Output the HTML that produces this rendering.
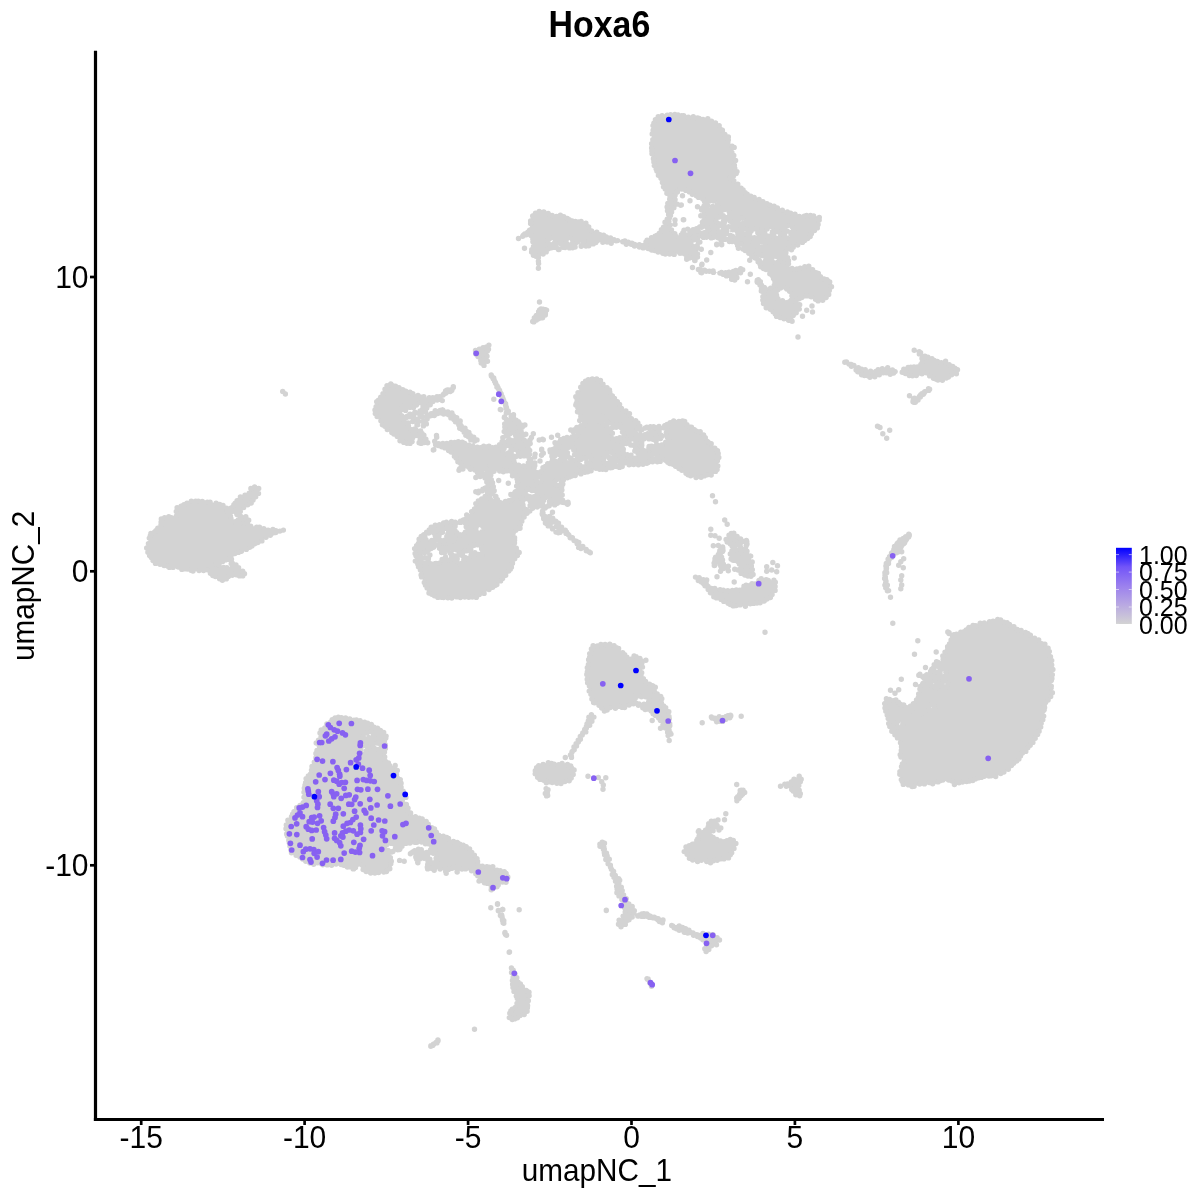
<!DOCTYPE html><html><head><meta charset="utf-8"><title>Hoxa6</title><style>html,body{margin:0;padding:0;background:#fff}svg{display:block}</style></head><body><svg width="1200" height="1200" viewBox="0 0 1200 1200">
<rect width="1200" height="1200" fill="#fff"/>
<path fill="#D3D3D3" fill-rule="evenodd" d="M900.4,756.3 903.1,761.7 899.5,768.7 900.3,777.9 903.1,784.9 910.1,786.3 917.9,785.5 926.6,782.9 934.6,784.5 941.2,780.4 951,781.4 954,785.1 959.5,783.1 969.5,781.4 979.5,778.1 988.1,776.3 997.5,776.3 1000.6,773.3 1007.1,770.8 1011.9,765.2 1016.9,761.1 1031.7,743.8 1039,732.4 1041.4,726.1 1043,718 1044,710.6 1046.4,708.8 1044.1,705.7 1050,698.9 1052.9,693.1 1051.3,685.1 1053,668.3 1052.2,658.7 1049.8,650.7 1046.8,644.8 1040.7,641.8 1032.2,636.7 1024.2,631.1 1019.1,630.2 1012.3,624.3 1004.3,621.9 997.3,618.8 977.3,624.4 969.3,627.6 964.2,631 958.8,632.8 951.2,633.8 953.2,636.6 948.5,644.2 946.8,650.1 942.2,656.2 945.1,664.8 937.1,660.8 935,662.8 931.6,670.5 923.8,676.3 921.2,675.7 924,679.9 918.8,688.7 919.6,693.8 914.9,701.3 908.8,707.3 900.3,704.1 897.5,699.3 893.2,701.5 887.4,697.8 883,705.2 885.2,710.9 888.7,718 887.9,724.6 892.5,732.2 896.6,737.2 900.3,743.5 901.2,750ZM947.2,682.1 947.6,684.2 946.1,686.5 943.6,687.5 941.6,686.8 941.2,684.7 942.7,682.4 945.2,681.3ZM941.3,669.1 943.4,669.2 944.6,670.3 945.3,671.4 945.7,672.8 945.5,674.4 944.2,675.9 942.1,675.8 940.9,674.8 940.1,673.6 939.8,672.3 939.9,670.7ZM933.8,668.6 934.7,667.1 937.1,666.4 939.4,667.6 939.9,669.3 939,670.9 936.6,671.5 934.4,670.4ZM933.1,681.1 935,681.4 936.5,683.6 936.3,686.2 934.8,687.4 933,687.1 931.4,684.9 931.7,682.3ZM933.2,704.6 934.3,705.8 934.6,707.4 934.2,708.8 933.2,709.9 931.7,710.4 930.1,710.1 928.9,708.9 928.6,707.3 929,705.9 930,704.8 931.5,704.2ZM920.4,710.6 921.3,712 921.2,713.6 920.4,714.9 919.1,715.7 917.6,715.7 916.2,715 915.4,713.6 915.4,712 916.2,710.7 917.5,709.9 919.1,709.9ZM901.5,722.4 902.5,723.9 902.2,725.7 901.2,726.8 899.9,727.4 898.5,727.4 897.1,726.8 896.1,725.3 896.4,723.5 897.4,722.4 898.7,721.8 900.1,721.8ZM890.1,375.2 897.8,371.4 886.5,367.1 878.3,369.4 873.4,372.3 867.7,369.4 859.3,367.7 851.2,363.7 847.5,363.7 848,364.3 854.7,368.5 859.4,374 871.7,377.1 876,376.4 885.1,371.9ZM901.1,371.8 904.2,372.3 909.1,376.3 913,376.3 919.6,373.8 927.4,373.8 932.8,378.3 938.5,381.2 945.9,379 952.4,375.8 958.2,372.1 958.6,368.7 952.3,365.9 946.9,361.3 939.7,362 929.2,357.7 922.2,354.2 917.9,350.6 916.8,351 920.1,354.9 922.2,362.2 917.4,367.1 910.8,366.2 905.9,366.9ZM913.2,401.6 917.2,398.4 923.6,394.3 927,389.9 921.3,394ZM909.7,535.7 909.8,534.6 909,534.2 904.9,536.7 899.7,539.1 894.3,547.5 890.1,555.5 886,564.5 884.2,575.2 885,584.4 887.1,591.5 888,591.5 888.3,590.4 886.7,584 885.8,575 887.5,565.2 892.9,553.8 896.4,553.8 898.4,550.4 902.6,546.2ZM537.7,259.5 537.1,264.4 537.8,265.3 538.4,263.9ZM537.9,258 545.4,252.6 551,248 555.4,248.1 556.3,246.1 559,244.4 560.8,244.3 562.8,245.4 562.9,247.7 562.5,248.4 572.6,248.8 578.4,244.2 577.4,242 577.5,240.4 578.8,238.7 580.9,238.8 582.2,239.8 582.9,241 583.3,242.3 583.3,243.9 582,245.6 580.1,245.5 582.2,247 594,244.8 600,238.8 604.2,243 613,243 620.2,240.3 627.4,244.7 638.8,246.4 657.3,251.4 666.9,255.4 676.6,253.8 686,254.8 689.2,258.8 698,258.1 698,245 696,245.8 694.3,245.9 692.6,245.3 691.3,243.6 691.9,241.4 693.3,240.3 694.9,239.7 696.5,239.7 698,240.1 698,239.2 704.8,237.1 718.5,238.6 718.2,237 718.6,235.4 719.9,234.2 719.9,233 721.2,231.2 719.9,231.4 718.4,230.7 717.5,229.4 717.3,227.8 717.9,226.4 719.2,225.4 720.8,225.2 722.3,225.9 723.2,227.2 723.4,228.7 722.4,230.5 723.8,230.2 725.5,230.7 726,231.2 727.7,230.4 726.5,229.7 725.6,227.7 726.3,226 725.6,225.3 724.8,222.9 724.9,221.4 726.4,219.9 728.4,220.2 729.5,221.3 730.1,222.4 730.2,224.5 731.4,223.1 732.9,222.6 734.5,222.9 735.7,223.9 736.3,225.5 736,227.1 734.9,228.3 733.3,228.8 733,229.6 732.1,230.2 733.9,229.9 735.6,230.8 737.8,233.7 738.2,235.6 737.2,237.8 734.8,238.1 733.1,237.2 731,234.4 730.6,232.5 731.4,230.6 730,230.9 730.6,233 729.5,235.5 729.6,236.3 729,237.8 727.8,238.8 726.2,239.2 724.2,238.2 723.8,239.4 724.8,239.6 726,241.3 730.3,241.3 736.3,243.3 738.1,246 739.5,244.9 741.9,244.8 743.4,246.8 743,249.9 745.5,251 753.7,244.5 754.9,245.8 748.1,254.3 752.8,256.7 759.4,262.3 760.1,268.4 766,269.9 771.6,275.5 776,284.2 766.3,289.1 759,281.8 762.2,286.3 760.6,291.7 763.8,294.1 762.9,301.4 765,306.2 771.3,310.9 777.8,316.7 784.1,319.8 790.7,322 792.5,321.1 794,315.8 801.3,306.2 794.9,301.7 800.9,297.2 808.7,296.3 812.7,298.3 817.3,301.3 822.6,301.3 827.5,297.1 832.4,285.1 830.2,281.5 821.2,276.6 815.4,269.9 808,266.2 790.1,268.9 786,250.6 788.7,249.3 792.4,249.6 795.4,245.9 807.1,240.1 813.4,232.9 818.2,225.7 819.7,221.9 819.7,216.7 809.9,215.3 796.3,215.3 782.6,210.2 755.8,198.5 745.4,192.4 737.8,184.8 729.8,178 738.1,173.4 734.6,167.1 735.4,158.8 731.9,153.6 734.3,147.3 729,142.7 728.1,136.8 723.4,132.1 718.6,124.8 709.4,119.5 698,118.8 698,117.6 673.4,114 657.7,116.8 652.8,122.5 651.2,149.9 652.8,157.9 656.1,169.3 664.3,189 670.7,198.2 666.3,206.8 668.8,213.4 664.3,224.2 658.1,234.9 647.9,239.2 642.4,245.6 629.5,241.9 616.2,239.4 602.6,235.2 592.1,230 584.1,221.9 571,220.3 562.9,215.4 554.5,216.2 547.7,212 536.7,211.2 532.4,216.2 528.3,222.4 531.6,226.6 527.2,233.3 517.4,237.5 518.1,238.4 530.7,233 532.9,245.1 531.3,250.7 533.1,255.8 538,256.7ZM786.1,231.7 787.6,231.5 785.8,228.9 786.1,226.7 788.2,225.8 791.2,227 793,229.6 792.7,231.9 790.6,232.7 789.4,232.4 790.3,234.3 790.2,235.7 789.1,237.1 787.4,237.3 786.1,236.6 785.3,235.7 784.9,234.5 785,233ZM784.7,302.2 778.3,298 775.9,290.7 783.6,286.8 790.1,292.2 792.5,299.6ZM778.3,231.3 779.7,232.7 780,234.5 779.6,236.2 778.6,237.5 776.9,238.4 775,238.2 773.6,236.7 773.3,234.9 773.7,233.3 774.7,231.9 776.3,231.1ZM772.1,258.9 772.6,257.2 774,256.1 775.6,255.8 777.2,256.4 778.4,257.6 778.7,259.3 778.1,261 776.8,262.1 775.2,262.4 773.6,261.8 772.4,260.6ZM771.8,229.6 772.6,231.5 772.3,233.3 771.3,234.7 770,235.7 768.2,236.2 766.2,235.5 765.4,233.6 765.7,231.8 766.7,230.4 768,229.4 769.8,228.9ZM760,257 761.7,256.1 763.4,256.2 764.9,257.1 765.8,258.5 765.9,260.3 765.1,261.9 763.5,262.8 761.7,262.7 760.2,261.8 759.3,260.4 759.2,258.6ZM760.8,241.8 762.2,241.9 763.5,242.7 764.1,244 764,245.5 763.2,246.7 761.9,247.4 760.5,247.3 759.2,246.5 758.6,245.2 758.7,243.7 759.5,242.5ZM752,232.3 752.2,229.7 753.8,228.4 755.7,228.8 756.8,229.9 757.5,232.5 756.1,236.4 754.8,237.3 753.5,237.6 752.1,237.6 750.6,237 749.5,235.3 750.2,233.4ZM747.2,230.3 747.1,231.9 746.3,233 745.1,233.6 743.7,233.6 742.5,232.9 741.7,231.6 741.8,230.1 742.6,229 743.8,228.4 745.2,228.4 746.4,229ZM742.1,218.3 743.3,219.9 743.3,221.5 742.8,222.9 741.8,224.1 740.3,224.8 738.4,224.4 737.2,222.9 737.1,221.2 737.7,219.8 738.7,218.7 740.2,218ZM721.4,212.1 723,210.5 724.9,210 726.8,210.4 728.4,211.4 729.6,213 729.6,215.3 728.1,216.9 726.1,217.3 724.3,216.9 722.6,215.9 721.5,214.3ZM723.7,218.2 724.1,220.3 723.3,221.8 722.3,222.9 720.9,223.6 719.2,223.9 717.3,222.9 716.9,220.8 717.6,219.3 718.7,218.2 720,217.5 721.7,217.2ZM669.6,219.9 672.4,210.8 676.9,204.7 674.5,198.2 679.8,188.6 690.9,193.2 699.3,198.2 707.1,202.2 706,203.7 707.8,204.8 708.1,205.9 709.4,205 709,203.6 710,201.9 711.6,201.1 713.2,201 714.7,201.4 716.1,202.6 716.6,204.5 715.6,206.3 714.9,206.7 715.4,208.9 714.1,210.6 712.3,211.2 710.6,211.1 709,210.5 707.7,209.1 707.5,208.3 706.7,209.1 705.3,209.6 705.3,211.2 704.6,212.9 702.8,214 704,222 702,222 702,224.2 697.6,228.5 690,229.8 690.1,232.2 688.5,233.7 686.7,234 684.9,233.6 683.2,232.3 682,232.9 682,235.3 675.6,235.3 671.4,229.1ZM702.1,227.2 704.4,226.4 706.2,226.6 707.8,228.1 707.5,230.3 706.4,231.7 705,232.4 703.4,232.8 702.6,233.4 700.8,233.3 699.6,232.3 698.7,229.7 699.1,228.2 700.6,227ZM569.2,237.2 571.2,238.2 572.2,241.2 571.4,244.2 569.4,245.4 567.4,244.3 566.5,241.3 567.3,238.3ZM555.4,240.5 554.5,242.6 553.1,243.5 551.6,243.9 550.1,244 548.4,243.4 547,241.6 547.9,239.5 549.4,238.6 550.8,238.2 552.3,238.2 554,238.7ZM799.6,786.5 801.6,779.8 801.4,777.3 798.5,776.3 794.4,778.4 789.3,782.6 784.3,784.3 782.7,785.6 783.9,786.3 789.7,786.3 791.7,791.5 794.7,795.1 798.4,797.4 801.5,795.8 800.6,793.9ZM723.4,602.3 730.2,604 733.7,607.6 738,605.4 744.8,606.3 749.6,604.7 757.9,603.9 765.7,601.5 771.8,596.2 774.8,590.9 776.3,584.2 775.2,580.3 769.6,580.3 763.4,578 759.3,580.1 753.8,583.8 748.8,582.9 744.7,585.7 740.9,590.5 733.3,589.5 724.8,590.4 716.3,587.8 707.9,586.9 705,581.2 701.5,577.6 696.8,576.3 694,577.5 694.7,578.4 699.5,580.9 704,585.3 708.1,590.3 712.5,594.6 714.6,598.8 719,598.8ZM731.1,556 733,555.5 734.5,556.1 735.6,557.4 735.8,558.8 737.2,559.9 737.6,562 740.7,566.6 738.2,570.8 739.6,573.2 744.3,574 748,577.7 750.5,576.6 753.2,574 753.7,571.2 751.1,566.9 752.6,562.7 749.9,561.4 749.5,559.5 748,559.4 746.8,558.8 745.9,557.5 745.8,555.7 746.9,554.4 748.1,554 744.8,547.4 743.8,547.7 742.3,547.3 741.1,546.4 740.4,545 740.7,543.2 741.9,542 743.4,541.6 744.9,542 745.9,542.7 746,542.5 736.2,536.6 732.7,532.3 729.6,533.3 726.6,537.9 724.5,540 726.3,541.8 732.3,545.8 730.4,553.3ZM738.2,560.4 738.4,558.3 740,557.2 741.6,557.2 743.9,558.5 744.8,559.8 744.6,561.9 743,563 741.4,563 739.1,561.7ZM740.6,546.6 740.2,548.3 739.1,549.5 737.7,549.9 736.3,549.9 734.9,549.1 734,547.5 734.4,545.8 735.5,544.6 736.9,544.2 738.3,544.2 739.7,545ZM744.1,791.1 742,788.4 740.2,789.6 739.4,794.2 736.3,798 736.8,800.3 738.6,801.2 739,799.2 741.9,795.3 745,792.8ZM702,270.9 703.6,271.3 710.2,271.3 729.5,276.6 733.6,281.4 736,279.4 743.4,268.4 742.5,267.3 737.4,268.6 728.8,272.8 718,272.8 709.8,270.4ZM717.9,859.7 724.7,859.7 728.6,858.3 731.5,853.3 736,843 730.8,838.3 725.3,842.2 716.7,839.3 710.8,835.8 715,826 720.3,830.2 721.7,829.7 720.9,827.3 716.1,824.9 713.8,821 710.9,820.5 708.6,824.1 707.6,829.8 701.6,832.2 696.3,829.9 696,830.1 699.8,834.6 697.5,840.4 692.7,844.3 686.2,846.7 683.4,850 685.9,853.1 687.4,856.9 692.6,859.9 697.6,862 703.4,860.4 709.3,862.6 714.3,861.4ZM725.8,716 718.5,718.7 713.4,718 718.1,722.1 723.5,721.4 727.5,719 731.8,717.8 731.5,716 729.6,714.1ZM719.1,553 714.8,559.6 714,566.9 714.5,566.5 715.3,560.1 719.7,553.1 720.7,565.1 724.3,566.7 721,564.9 720.2,555 721.7,548.2 720.3,553ZM498.8,388.1 491.7,374.9 490.9,374.6 490.8,375.4 497.9,388.6 504.5,403.5 507.4,412.2 505.6,412.9 505.9,414.8 506.2,414.1 508.2,413.3 510.1,413.9 508.2,411.3 505.4,403.1ZM513.5,417.7 512.5,417.8 511.6,419.8 509.7,420.5 507.9,420.1 506.5,419 503.7,425.9 504.8,432.6 504.6,434.2 506.4,434.8 507.4,436.1 507.9,437.6 507.8,439.1 507.1,440.7 505.4,441.8 503.4,441.2 502.4,440 501.6,441.3 495.7,447.1 486.7,446.2 476.5,447 459.7,442 450.1,442 436.8,443.9 435.6,438.9 435.2,439.3 434.5,445 434.9,447.4 438.2,445.2 447.9,450.1 454.8,457.8 460.7,463.7 458.1,469.7 459,470.9 466.6,467.9 476.6,470.9 478.2,475.9 486.4,478.6 485.2,487.8 480.6,491 486.8,491.7 481.4,499.9 475.1,503 473.5,509.2 468,516.5 460.6,521.2 453.5,521.2 443.8,522.8 432.7,526 424.8,533 418.4,541.1 414.5,548.7 415.3,559.5 418.6,567.7 421,575.9 425.2,584.3 426.8,590.6 431.2,595 437.1,598 474.5,598 482.4,594.1 492.2,588.3 500.3,581.8 506.7,575.4 511.5,567.4 514.9,559.1 518.6,552.3 515.6,543.8 513.7,532.8 518.4,527.2 523.4,518.9 528.1,512.9 521.1,502.4 530.7,498.6 529.1,511.7 530.3,510.1 533.5,508.2 533,506 534.1,504 535.4,504 535.1,502.4 535.4,501.1 536.3,499.9 538.1,499.3 539.7,500.2 540.4,501.5 540.5,502.8 540,504.3 541.2,503.6 542.5,508.1 558,505 558,501.9 566.1,502.9 563.2,501.3 562.2,495.3 561.3,486.4 563.4,480.2 572.7,476.4 582.7,473.9 589.2,471.5 596.6,467.8 603.3,470.4 609.6,468 623,467.2 624.7,466.8 623.6,465.7 623.4,464.2 623.9,462.9 624.9,462 626.3,461.7 627.7,462.1 628.6,463.2 628.9,464.7 628.4,465.8 633.1,464.7 643,464.7 649.8,462.1 656.4,463 663.4,460.3 679.4,468.3 686.1,473.3 692.3,477.2 699.9,478 713.9,474.1 717.2,470.8 718,463 719.6,455.9 718.2,451 713.7,445.7 706.6,441.3 704.9,434.6 697.4,430.1 688.6,425.7 686.3,421.8 673.9,419.6 669.4,423.4 663.9,426.1 655,427 647,426.2 643.1,428.2 644.7,428.6 645.5,429.7 646.4,428.8 648.9,428.2 650.3,428.6 651.6,430.1 651.2,432 650.2,433.1 647.7,433.7 646.1,433.1 646,433.8 644.4,435.3 642.3,434.7 641.2,433.1 639.5,433.6 637,432.9 635.8,431.9 635.3,429.8 636.8,428.3 638.3,428 640.1,428.3 638.3,422.1 631.9,418.2 627.7,412.2 621.9,407.2 616.8,400.5 611.7,395.3 608.4,387.9 602.6,383 599.7,377.9 590.4,378.6 584.6,380.8 580.1,387.6 577,397.1 576.2,404.9 577.7,411 582.2,420 584.2,420.8 585.1,422 585.2,423.6 584.5,425.1 583,426 581.4,425.9 580.1,425.2 579.3,423.9 576.3,427.4 571.3,430.2 571.7,432.9 573.4,431.4 575,431.2 576.6,432 577.3,433.6 577,435.2 576.2,436.3 575,437.1 573.4,437.2 572.2,436.6 562.7,438.5 556.6,444.6 550.5,453.7 551.3,457.1 553.1,457.5 552.8,456.5 554.4,454.8 556,454.4 557.6,454.6 559,455.1 560.3,456.2 561,458.4 559.5,460.1 557.8,460.4 555.1,459.9 554.9,462.3 553.2,463.4 551.5,463.3 550,462.6 546.1,465.9 542,467.9 542,470.3 535.4,472.5 529.7,455.3 529.7,448.3 527.8,448 526.2,446.4 526.4,444.2 528,442.5 525.4,439.8 520.5,436.2 523.7,434.4 520.8,430.5 522.4,427.4 521.7,426.5 521.4,425 518.3,422.5ZM659.6,438.5 660.5,438.9 661.1,437.7 662.7,436.9 665.7,436.8 667.3,437.5 668.4,439.4 667.5,441.4 665.9,442.3 664.4,442.5 662.5,442.2 662.3,443.9 661.3,445.4 659.4,446.2 657.6,445.3 656.7,443.8 656.4,442.3 656.7,440.7 657.7,439.3ZM667.3,430.3 666.6,432.4 665.1,433.5 663.6,434 662,434 660.3,433.5 658.9,431.8 659.6,429.6 661,428.5 662.5,428 664.1,428 665.8,428.5ZM652.1,454.1 653.7,453.4 655.2,453.5 656.4,454.3 657.2,455.4 657.5,457 656.8,458.6 655.2,459.3 653.7,459.2 652.5,458.4 651.7,457.3 651.4,455.7ZM648.5,438.6 649.9,438.7 651.3,439.9 651.5,440.7 652.1,439.7 654.2,439 656,440.4 656.4,442 655.9,444.9 655,446.2 652.9,447 651.1,445.6 650.7,443.5 649.2,444.4 649.7,447.8 642.5,451.4 641.2,440.5 648.3,436.9ZM623.4,449 622.4,448.5 621.4,446.8 622.2,444.9 623.5,444.2 625.8,444 630.2,441.8 630.9,439.8 632.8,438.5 634.9,439.5 635.8,441.1 636,444.3 635.4,446 634.5,446.6 635.8,448.2 633.6,451.5 635,451.2 636.4,451.7 637.4,452.9 637.8,454.3 637.3,455.8 636.2,456.9 634.6,457.2 633.2,456.7 632.2,455.6 631.9,454.2 630.8,455.8 624,453.1ZM606.8,425.8 607.5,424.2 608.8,423.3 610.2,423.1 611.6,423.5 612.7,424.5 613.2,426.2 612.6,427.8 611.4,428.5 619.2,426 624.5,433.9 613.7,440.7 611,428.7 609.8,428.9 608.5,428.5 607.3,427.5ZM615.6,460.7 617.2,460.4 618.6,461.2 619.3,462.6 619.3,463.9 618.8,465.1 617.7,466.1 616.1,466.3 614.7,465.5 614,464.2 614,462.9 614.5,461.6ZM603.7,458.2 604.9,456.5 607.2,456.4 607.2,455.2 608.5,453.1 610.9,453.1 612.6,454.3 613.7,455.8 614.4,457.6 614.4,459.6 613.1,461.7 610.7,461.7 610,461.2 608.8,463 606.8,463.2 605.2,462.5 604.2,461.3 603.7,459.9ZM599.5,418.7 600.8,417.1 602.3,416.6 603.7,416.8 605,417.3 606.1,418.3 606.6,420.3 605.3,421.9 603.8,422.3 602.4,422.2 601.2,421.7 600,420.6ZM584,458.6 585.6,459.9 586,457.9 587,456.9 588.7,456.5 590.2,457.4 590.8,458.7 590.8,460 590.4,461.1 589.4,462.2 587.7,462.6 586.2,461.7 585.6,464.7 584.6,466 582.4,466.6 580.7,465.3 580.2,463.6 580.3,462 580.8,460.6 581.9,459.2ZM564.5,457.2 566.4,455.9 568.5,455.9 565.7,448.8 572,446.7 576.7,458.5 572.5,460.5 572.6,461.1 570.6,462.5 568.8,462.5 565.8,461 564.6,459.6ZM567.8,438.7 569.5,438.4 571,439 572,440.2 572.4,441.6 572.2,443.2 571,444.5 569.2,444.8 567.7,444.2 566.7,443.1 566.3,441.6 566.6,440ZM560.1,480.8 560.9,482.4 560.5,484.1 559.3,485.1 558,485.5 556.7,485.4 555.3,484.6 554.5,483 555,481.3 556.1,480.3 557.4,479.9 558.8,480ZM547.5,497.5 549.2,499.1 549.6,501.1 549.3,502.9 548.6,504.5 547.4,506 545,506.6 543.3,504.9 542.9,503 543.2,501.2 543.9,499.5 545.1,498ZM538.9,476.3 540.5,476.6 541.7,477.8 542.1,479.3 541.7,480.8 540.6,482 539.1,482.5 537.5,482.1 536.4,481 536,479.4 536.4,477.9 537.4,476.8ZM524.7,492.7 525.8,490.7 527.4,489.9 528.9,489.8 530.4,490 532.2,491.2 533.8,490.9 535.2,491.3 536.2,492.4 536.5,494 535.9,495.4 534.7,496.3 533.3,496.5 532,496 531.1,495.1 528.8,495.7 527.3,495.5 525.8,494.6ZM511.4,452.5 512.1,450.3 514.3,449.8 515.9,450.5 518,452.8 518.5,454.4 517.9,456.5 529.1,457.3 527.4,465.5 515.3,464.4 512,456.1 513.7,456.2 511.9,454.2ZM492.9,487.4 492.6,486.4 493.5,484 492.2,478.7 491,471.3 510.8,471.3 517.1,477.6 516.2,485 516.7,489.1 518.1,489 519.6,490.6 519.9,492.4 519.5,494.1 518.7,495.5 517.3,496.7 515.1,496.9 514.2,496 511.1,500.1 501.2,502.1 496.7,498.9 495.8,500.4 493.8,501.2 491.9,500.4 490.8,498.9 490.5,497.2 490.7,495.5 491.8,493.9 493.1,493.4 492.1,490ZM509.4,434.4 511.1,433.3 513,433.3 514.6,434.1 515.7,435.5 516.2,437.3 515.5,439.2 513.8,440.3 512,440.3 510.4,439.5 509.2,438.1 508.8,436.3ZM507.5,445.3 509.3,446.6 509.9,448.4 509.9,450.1 509.3,451.8 508.1,453.2 505.9,453.8 504.1,452.5 503.5,450.7 503.6,448.9 504.1,447.3 505.4,445.9ZM481.2,471.4 481.8,469.9 483.1,469.1 484.3,469 485.6,469.3 486.7,470.2 487.1,471.8 486.4,473.4 485.2,474.1 484,474.3 482.7,474 481.6,473ZM481.8,526.3 482.6,527.9 482.5,529.7 481.5,531.2 479.9,532 478.1,531.9 476.6,530.9 475.8,529.3 475.9,527.5 476.9,526 478.5,525.3 480.3,525.4ZM461.3,552.5 471.4,549.1 470.1,547.2 481,544.1 481.9,555.4 473.7,552.5 472.7,551 467.9,559.1ZM459.2,536 455.4,529.5 456.6,523.2 466.4,521.8 465.2,533ZM461.6,554.9 463.5,556.3 464.2,558.2 464.2,560.1 463.6,561.9 462.4,563.6 460.1,564.3 458.1,562.9 457.5,561 457.5,559.1 458.1,557.2 459.3,555.6ZM422.9,557.7 422.1,557 422.3,554.8 423.5,553.5 426.4,552.4 428.2,552.6 428.8,553.2 428.8,549.6 436.7,545.7 439.8,551.7 445.8,553.7 446.4,552.6 447.5,552 443.5,548 458,550.1 453.9,558.4 452.1,556.6 451.2,558.4 449.4,559.4 447.4,559.1 446.1,557.7 445.4,555.7 439.7,561.1 439,563.1 436.8,563.6 435.2,564.9 432.7,563.5 430.6,563.9 429.2,563 428.6,561.7 428.8,557.1 427.8,558 428.6,559 428.5,561 427.5,562.4 426,563.2 424.4,563.4 422.7,562.8 421.5,561.3 421.6,559.3ZM448.1,538.1 449.4,536.8 450.9,536.6 452.3,536.9 453.5,537.8 454.2,539.1 454.1,541 452.8,542.2 451.2,542.5 449.9,542.1 448.7,541.3 447.9,539.9ZM443.8,533 443.3,530.8 444.8,529.4 446.2,529.2 448.6,529.9 449.6,531 450,533 448.5,534.5 447,534.7 445.6,534.3 446.2,536.2 446,538 445.2,539.6 443.7,540.8 441.6,541 439.9,539.7 439.2,537.9 439.4,536.1 440.2,534.4 441.7,533.2ZM436.7,539.2 438.3,539.5 439.5,540.6 440,542.1 439.8,543.6 438.9,544.9 437.4,545.6 435.7,545.2 434.5,544.2 434,542.7 434.2,541.2 435.1,539.9ZM432.7,532.8 434.6,534.4 434.3,536.9 432.9,538.4 431.2,539.3 429.2,539.8 427.2,539.6 425.3,537.9 425.6,535.5 427,534 428.8,533 430.7,532.6ZM641.7,428.9 641.3,429.1 641.4,429.1ZM546.2,518.5 557.9,526.7 566.3,533.5 576.6,543.7 579.7,548.4 591.1,553.3 591.4,552.8 572,536.5 561.9,526.4 552.3,517.6 546.2,516ZM549.5,525.7 552.8,529.8 555.1,530.3 550.4,526.5ZM703.8,948 704.3,950.7 706,952.3 708.6,950.2 712.1,945.8 717,944.2 719,940.8 716.9,936.5 712.7,934.4 705.1,932.9 700.1,934.6 691.1,932.8 675,926.3 674.4,926.6 689.2,932.4 695.8,936.5 702,938.3 706.7,944.1ZM593.3,702.8 599.5,705.9 605.1,711.5 609.6,707.7 614,709.5 620.2,705.9 624.2,709.1 627.4,706.5 633.3,704.6 639.2,706.5 643.8,709.6 649.3,708.6 653.1,714.3 657.2,716.8 661,722.4 662.5,727 664.9,728.6 669.3,737.1 671.4,733.9 670,730.4 669.7,713.8 666.7,707.9 661.2,702.3 662,698 660.2,695.6 654.4,690.7 655.2,687.6 652.2,685.8 641.1,676.6 642.2,671.5 642.2,662.9 646.1,660.9 645.3,659.9 639.2,656.8 634,654.9 631.4,658.5 625.4,654.9 620.4,649.9 614.9,646 608.1,644 598.7,644.5 592.3,646.6 590.3,650.6 588.6,662 587,670.3 586.2,678.1 588.6,686.3 589.4,692.7 591.9,697.6ZM649.3,698.4 647.2,704.8 636,702.6 633.7,695.8ZM620.5,879 618,878.5 614.1,872.6 603.7,847.7 605.2,841.6 603.6,840.3 601.4,843.2 598.1,845.3 604.4,850.6 605.3,857.7 613.1,873.3 611.5,876.4 615.2,880.7 617,888.1 617,892.8 621,899.1 625.5,911 621.5,918 618,920.8 618.6,925 620.1,927 623.8,926.5 626.9,921.9 631.7,918.7 633.9,912.9 634.5,907.6 630.1,904.7 626.6,897.6 622.4,891 618.6,883.4ZM636.9,916.1 638.8,917.1 646.8,916.3 654,918.1 660.3,921.2 661.2,921 655.9,917.7 649.2,916 644.7,913ZM649,980.6 649.3,982.9 651.4,984.1 651.5,984ZM572.2,756 573.1,750.9 590.8,723 594.4,718 592.9,713.9 589.9,714.3 587.7,722.4 582.6,732.6 571.1,752.4 569.8,758.2 570.8,758.8ZM575.2,771.7 571.9,766.4 567.6,763.6 561.8,762.9 555.8,764.6 549.8,762.9 540.8,763.6 536,767.7 534.7,774.3 539.5,779.2 545.6,782.2 558.2,783.8 571.6,780.1 572.3,776.8ZM548.2,796.5 548.4,795.5 546.9,793.9 548.1,789 547.8,788.4 547,788.2 546.1,789.1 544.9,794.3 546.7,796.4 547.5,796.8ZM538.5,309.9 535,317.8 531.3,321.8 532.1,322.7 534.1,321.5 540.7,319 545.1,316.2 547.3,310.9 546.2,308.7 541.2,308.7ZM508.7,1013.7 509.4,1019.7 511,1020.7 515.9,1018.2 522.5,1015.7 526.5,1013.7 527.2,1007.7 529.6,1003.7 528.8,998.4 529.5,992.7 523.2,988.7 522.3,984.4 518.4,981.3 514.8,974.1 513.2,968.4 512.1,967 511.3,967.6 512.8,981.7 512.1,988 515.2,994.2 517.1,999.9 515.1,1007.9 509.9,1011.4ZM390,855 388.9,856.4 386.4,843.6 395.2,842.8 394.5,848.4 396.6,849.8 399.3,850.3 401.2,848.1 402.6,844.2 403.3,844.5 408,842.8 413.2,842.8 418.5,842 428.5,844.5 434.2,850.1 433,850.8 438.7,869.5 440.2,869.2 446,871.5 452,868.8 454.8,868 457.1,869.7 459.9,867.7 463,869.3 472.6,871.5 477.7,875.6 478.6,882.4 479.5,883.3 480.7,880.7 491,885.3 491.9,892.2 492.3,892.6 493.3,889.8 497.1,885.9 502.7,883.1 507,882.4 508.8,878.8 508.1,874.5 504.2,871.9 496.5,870.2 492.5,866.2 486.5,866.2 478.2,865.1 477.3,857.7 473.3,854.5 471.7,849 468,847.6 468,846.4 444.2,836.8 438.4,834 435.7,831.5 431.9,826.4 425.4,821.5 420.8,817 416,817 407.6,810.7 409.3,805.8 404.3,802.5 406.2,796.8 403.1,790.8 399.8,779.2 396.2,773.8 397.1,768.7 395.5,766 388.7,765.2 384.6,757 385.5,748.4 384.6,741.1 387.7,737.2 386.7,734.7 375.7,726.8 367.5,723.5 361.1,720.3 353.1,719.5 343.2,717.8 334.8,717.8 328.9,722.2 324.7,728.2 319,731.1 320.5,737.2 316.4,742.1 319,748.8 314.1,753.7 316.4,758.3 312.7,765.8 309.3,774.2 304.6,782.1 305.4,786.8 303,794.8 306,800.8 298.7,805 293.5,809.4 291.8,816 286.7,821.1 284.6,826.8 288.6,841.2 290.2,849.3 292.3,853.5 301.1,858.3 306.8,862.4 311.8,864.6 318.4,862.9 330,866.3 336.7,864.6 343.7,866.4 352.9,867.8 342,862.4 342.4,861.1 361.5,864.9 364,871.7 371.7,873.8 379.7,872.2 387.3,871.4 392.1,866 391.4,860.4ZM380.3,745 380.1,746.9 379,748.1 377.5,748.7 376,748.8 374.5,748.1 373.4,746.5 373.7,744.6 374.8,743.4 376.2,742.8 377.8,742.8 379.3,743.4ZM363.1,733.6 364.6,732.5 366.3,732.5 367.7,733.1 368.7,734.2 369.6,733.2 371.1,732.9 372.5,733.4 373.4,734.3 373.8,735.6 373.6,737.1 372.5,738.3 371,738.6 369.6,738.1 368.9,737.3 367.3,738.6 365.6,738.6 364.3,738 363.2,737 362.6,735.4ZM358.5,743.2 360.3,742.9 361.8,743.6 363,745.4 364.7,745.1 366.1,745.6 367,746.8 367.3,748.4 366.7,749.8 365,750.8 365.5,751.8 365.2,753.3 364.2,754.3 363,754.7 361.7,754.5 360.6,753.8 359.9,752.4 360.2,750.9 360.7,750.4 360.2,749.4 358.5,748.8 357.6,747.6 357.1,746.2 357.3,744.6ZM429.9,852.3 428.6,853 425.5,852.2 424.3,859.2 427.6,860.2 426.5,868.9 427.2,869.4 428.4,868.2 435,870.4 437.1,869.8 431.2,862.7 427.6,854.6ZM423.2,851.2 421.7,850.2 418.4,849.5 415.7,850.2 411.6,852.3 410,853.9 410.3,854.2 410.9,854 415.1,851 417.9,854.4 417.8,853.8ZM418.1,855.9 415.7,856.2 415.4,856.6 417.8,864.1 418.3,864.6 418.8,864.2 417.8,861.1 418.7,860.7ZM504.8,932.1 504.6,932.8 505.3,935.8 505.6,936.2 506.3,936.3 506.6,935.5 505.5,932.5ZM500.9,915.7 502.5,923.3 502.9,924 503.5,924.1 504,923.8 504.1,923 502.3,914.6 501.2,914.3ZM488,350.4 490,345.8 488.4,344.9 484.2,347.7 477.3,349.4 474.7,350.4 475.2,354.2 482.4,363.7 484.3,365.7 486.6,363.9 488,358.1ZM376.6,416.7 377.3,416.9 383.2,425.3 391.3,432.6 399.9,439.5 401.3,442.4 410.2,443.8 414.3,443.8 413.6,443.4 412.6,441.6 412.5,439.8 412.8,437.9 413.9,436.3 416,435.4 418.1,436.5 419,438.2 419.2,440.1 418.8,441.9 417.7,443.6 417.2,443.8 427.2,443.1 427.7,442.4 424,435.8 422,429 421.7,430.1 419.7,431.6 417.4,430.7 416.3,429.1 415.8,427.3 412.9,429 410.7,429.3 408.4,428 408.2,425.4 410.1,422.9 408,423.5 406.2,423.4 404.3,421.9 404.7,419.5 406,418.1 409.2,416.9 411.1,417.1 413,418.6 412.6,421 411.7,421.8 412.9,421.3 415.1,421 417.4,422.3 417.4,422.7 418.4,422 420.7,422.9 421.8,424.5 422.3,426.3 422.2,428.5 424.2,425.5 422.9,425.1 421.3,423.8 420.9,422.4 419.1,421.6 417.9,420.2 417.7,418.1 419.3,416.4 419.1,415.7 418.7,416.8 417.2,417.8 415.4,417.6 414.2,416.6 413.6,414.1 411.3,413.6 409.9,412.5 409.8,412 409.3,412.9 408.1,414 407.4,416 406.1,417 404.5,417.3 403,416.7 401.9,415.4 401.7,413.7 402.4,412.1 402.1,410.6 400.9,408.4 402.2,406.4 404,405.7 405.7,405.6 407.4,406 409,406.9 410,409.1 409.8,409.8 410.6,408.7 412.3,408.2 414,408.4 413.9,407.9 414.8,405.8 416.3,404.3 418.1,403.1 420.3,402.6 422.7,403.5 423.2,406.1 422.3,408.1 420.8,409.7 419,410.9 416.9,411.3 417,411.6 418.6,412.7 419.2,414.8 419.5,413.8 420.6,412.7 422.2,412.2 423.8,412.7 425,414 425.6,409.9 430.3,405.2 435.8,400.6 440.3,400 439.1,397.6 449.5,390.8 440.7,396.1 430,397.9 419.4,396.1 390.3,383.9 385.7,387.2 381.7,395.2 376,402.5 374.6,409.9ZM424.4,417.6 425.4,418.8 427.7,418.2 434,415 441.6,412.8 449,415.8 455.3,421.2 460.3,428.8 467.3,436.5 474.6,441.7 475.9,441.5 476.7,440.4 476.5,439.1 475.9,438.4 469.6,433.6 463.1,426.4 457.8,418.5 450.5,412.4 442.5,409.2 441,409.1 432.9,411.6 425.4,415.3 425,417ZM437.8,1040.4 430.6,1045.7 430.3,1046.7 431.4,1046.8 438.6,1041.5 438.8,1040.5ZM186.7,568.6 192.1,571.3 199.9,571.3 207.6,570.4 211.2,575.7 217.5,577.3 221.9,580.3 229.1,577.4 234.9,573.5 240.3,576.3 244.3,575.7 245.2,572.4 232.3,562.8 231.1,555.4 252.4,546.5 262.2,540.9 267.2,536.6 280.9,530.4 274.9,529.5 266.2,529.5 259.8,526.3 252.7,528 247.8,523.2 248.6,519.1 245.7,516.8 238,514.2 245.4,506.8 251.9,501.9 256.7,495.6 259.9,490 258.6,487.5 255.2,486.3 251.4,488.2 248,493.2 241.2,496.6 234.5,503.3 230.5,505.3 231.5,511 236.6,513.6 240.1,523.9 231.7,519.8 229.3,512.5 224.5,506.5 220.9,504.4 203.1,500.3 195.3,500.3 187.4,502.7 181,505.9 175.3,509.4 175.3,518.8 169.2,516.3 160.3,519.8 160.3,523.9 156.4,529.8 150.1,533.8 147,546.8 147.8,554.2 156,564 166.7,565.6 170.5,568.7 177.2,567 181.9,571ZM232.5,569.8 225.2,566.9 216.8,564.8 230.8,557.8Z"/>
<path fill="none" stroke="#D3D3D3" stroke-width="5.4" stroke-linecap="round" d="M524.5 248.3h0M682.5 195.8h0M690 200.8h0M697.5 206.7h0M683.3 219.7h0M680.8 205.3h0M675 220h0M675 224.2h0M686.7 259.2h0M694.7 260.5h0M692.5 267.5h0M682.5 195.8h0M690 200.8h0M697.5 206.7h0M701.7 210h0M700.8 215.8h0M683.7 219.7h0M681.3 205h0M710.8 252.5h0M706.7 260h0M695 260.5h0M701.7 265h0M692.5 267.5h0M716.7 244.2h0M721.7 244.2h0M686.7 258.3h0M750.3 274.2h0M747.5 281.7h0M757.5 280.8h0M760 285h0M701.3 249.2h0M710.8 252.5h0M706.7 260h0M702 264.2h0M716.7 244.7h0M721.7 244.7h0M750.3 274.2h0M747.5 281.7h0M749.7 260.3h0M802.5 316.3h0M798 337h0M806.7 310.3h0M812.5 312h0M812 306h0M794.2 258h0M778.3 255h0M785.8 253.3h0M909.5 395.8h0M877.5 426.2h0M880 427.5h0M889.7 430.3h0M882.8 433.7h0M886.7 438.3h0M539.5 302h0M493.8 399.2h0M500.3 409.5h0M498.7 480.5h0M508.3 483.3h0M512.5 475.8h0M510.8 494.5h0M494.2 490.8h0M503.3 471.7h0M490 464.2h0M500.8 409.7h0M508.3 411.3h0M513.3 416.7h0M518.3 421.7h0M523.3 425.8h0M525.8 434.2h0M533.3 433.8h0M539.2 440h0M543.3 439.7h0M530 440h0M541.7 449.2h0M543.3 453.3h0M534.7 457h0M550 450h0M554.2 454.2h0M555.8 443.7h0M433.3 450h0M475.8 477.5h0M475.8 491.7h0M466.7 515h0M520 528.3h0M519.2 552.5h0M542.5 439.2h0M541.7 450h0M543 453.3h0M550 450h0M555 442.8h0M552.5 460h0M552.5 512.2h0M575.8 396.7h0M575.8 405h0M577.5 411.7h0M570.8 430h0M282.7 391.4h0M285.4 394h0M712.5 495.8h0M715.5 501.7h0M724.7 520h0M727.2 524.2h0M710.8 529.2h0M710.8 535.3h0M715 535.8h0M719.2 538.3h0M713.3 545.8h0M718.3 545.5h0M720.5 571.2h0M728.3 570.8h0M728.3 566.3h0M717 576.7h0M734.7 569.2h0M734.2 582h0M706.7 580h0M766.7 566.7h0M766.7 571.2h0M772.8 562.5h0M777.5 565.8h0M776.7 571.7h0M771.7 570h0M765 632.2h0M890.5 597.2h0M892.8 623.3h0M901.7 551.7h0M903.7 558.7h0M900.8 561.7h0M898.7 565.3h0M903.3 567.8h0M901.7 575.8h0M900.8 580h0M901.7 585h0M900.8 588.8h0M917.8 640.8h0M914.5 654.2h0M936.2 652h0M925.5 667.5h0M901.3 679.2h0M915.5 684.5h0M890.5 690.3h0M898.7 689.7h0M895 693.3h0M947.8 632h0M399.6 860.4h0M404.2 861.2h0M446.2 873.3h0M457.1 871.7h0M446.2 873.3h0M457.2 872h0M497.5 904.2h0M490.8 907.8h0M498.3 910.5h0M502.8 909.5h0M519.2 909.7h0M509.5 952h0M606.3 910.3h0M474.5 1029.2h0M652.2 720.5h0M660.5 728.3h0M702.2 722.7h0M712 718h0M716.7 721.7h0M719.2 716.7h0M565.3 757.5h0M588 776.2h0M598.3 777.5h0M605.8 777.8h0M601.7 781.7h0M603.3 785h0M603 789.2h0M702.2 722.8h0M741.2 716.2h0M736.7 784.5h0M725.8 813.7h0M724.5 819.7h0M718 820h0M606.3 910.5h0M497.5 903.7h0M490.8 907.8h0M498.3 910.8h0M502.5 909.5h0M519.2 909.7h0M509.2 952.2h0M520.1 429.7h0M531.5 437.4h0M511.2 415.8h0M524.9 425h0M534.8 465.4h0M552.7 449.5h0M520.6 430.8h0M535.1 454.1h0M552.1 455.7h0M550.3 451.9h0M557.7 435.3h0M518.4 422.9h0M517.2 421.6h0M540 461h0M551.5 437.2h0M541.5 455.3h0M555.2 454.3h0M513.4 418.6h0M554.9 455.7h0M558.9 447.2h0M558.4 446.8h0M534.8 462.9h0M901 757.1h0M904.2 761.4h0M902.4 763.9h0M901.5 766.6h0M899.9 771.8h0M899.8 774.2h0M901.3 779.6h0M902.3 781.4h0M903.3 784.4h0M908.5 784.9h0M912.1 786.6h0M914.1 786.3h0M919.7 784h0M924.4 783.9h0M929.1 782.5h0M932.7 783.8h0M938 781.9h0M940 780.8h0M942.9 780h0M948.6 780.1h0M952.1 781.1h0M954.4 784.6h0M959 782.7h0M962.5 782.1h0M966.6 781.5h0M969.5 781.1h0M972.8 780.6h0M975.4 778.9h0M978.1 777.9h0M981.3 777.4h0M984.3 776.2h0M988.9 776.1h0M991.2 775.8h0M995.7 776.6h0M1000.7 773.6h0M1003.9 772h0M1008.3 769.2h0M1011.4 765.6h0M1013.6 763.3h0M1016.6 761.1h0M1018.9 759h0M1020.5 756h0M1022.4 752.9h0M1025.8 751.4h0M1027.8 747.8h0M1030.2 745.3h0M1032.9 742.4h0M1035.2 738.3h0M1037.6 734.4h0M1039.1 731.2h0M1040.7 727h0M1041.2 723.3h0M1042.8 719.8h0M1043.7 716.1h0M1043.2 710.9h0M1044.2 709.8h0M1044.6 707.5h0M1044.3 704.9h0M1045.6 702.4h0M1048.1 700h0M1050.7 696.6h0M1052.4 692.7h0M1051.2 687.8h0M1051.3 686.1h0M1051.3 680.6h0M1051.9 678.4h0M1052.3 674.7h0M1052.9 669.4h0M1051.7 664.9h0M1051.7 660.5h0M1050.5 656.8h0M1049.3 651.4h0M1048.1 648.3h0M1044.9 644.1h0M1041.7 643.6h0M1038.7 639.9h0M1034.6 638.2h0M1030.4 635.3h0M1027.7 633.4h0M1025.6 632.5h0M1021.1 630.4h0M1017.2 629.5h0M1013.9 626.6h0M1009.5 624.5h0M1007.1 622.7h0M1003.9 622.1h0M1000.6 620h0M997.7 619.4h0M993.1 621.1h0M989.6 621.6h0M984.3 622.9h0M980.2 623.3h0M975.8 625.7h0M973 625.5h0M968.9 627.5h0M966.2 629.9h0M963.5 632h0M960.8 632.3h0M956.5 634.2h0M953.9 634.6h0M952.7 636.5h0M951.1 640h0M949.5 643.9h0M947.6 646.8h0M947.5 649.7h0M945 652.1h0M942.8 655.9h0M943.1 659.5h0M945.2 662.6h0M945.3 664.9h0M941.6 663.8h0M937.8 662.3h0M936.5 661.7h0M934.2 664.8h0M931.8 669.1h0M930.6 671.4h0M926.8 674.8h0M925.1 675.9h0M922.5 676.6h0M924 678.3h0M922.9 683.4h0M920.2 686.4h0M919.9 689.1h0M918.7 694h0M918.4 697.3h0M916.5 699.9h0M913.4 703.6h0M910.4 706.2h0M906.8 707.6h0M903.7 705h0M900.4 704.2h0M898.4 702.2h0M895.9 699.9h0M893.1 700.8h0M889.6 699.5h0M886.4 698.8h0M886.2 702.1h0M884.7 703.6h0M885 708h0M885.8 711.2h0M887.2 715h0M888.2 718.6h0M888.7 723.4h0M889.8 726.6h0M891.8 731.2h0M894.9 734.8h0M897.5 737.9h0M900.5 742.7h0M901.5 746.8h0M901.3 750.4h0M900.2 754.8h0M947.9 682.9h0M946.4 686.7h0M943.5 688.4h0M941.4 686.3h0M942.1 683.4h0M944.4 680.7h0M943.1 668.3h0M945.8 672.1h0M945.3 675.9h0M941.5 676.5h0M940.1 673.2h0M940.1 670h0M933.2 668.3h0M935 666.4h0M939 666.7h0M940.3 670.6h0M936.3 672.3h0M933.5 669.4h0M934.9 681h0M936.5 684.8h0M935.9 687.7h0M931.6 685.9h0M930.8 682.9h0M934.1 705.4h0M934.4 708.2h0M933.1 710.1h0M929.4 710.1h0M928.6 707.1h0M931.2 704.8h0M933.7 704.9h0M921.3 710.9h0M920.8 713.8h0M918.5 715.3h0M915.7 715.7h0M914.5 712.7h0M918 710.2h0M902.8 724.1h0M901.5 726.8h0M896.9 727.3h0M896.7 723.6h0M898.1 721h0M890.2 374.2h0M893.7 373.1h0M895.1 371.6h0M892.4 370h0M887.7 367.8h0M882.3 368.6h0M878.1 369.7h0M875.8 371.4h0M870.6 371.2h0M865.2 369.7h0M861.6 369.1h0M858.4 367.7h0M853.9 365.5h0M851.1 364.5h0M849 364.1h0M851.4 366.3h0M856.1 369.9h0M857.8 371.7h0M861.6 374.7h0M864.4 375.5h0M867.2 375.5h0M869.9 377.2h0M874.8 376.8h0M879.3 374.7h0M883.2 372.8h0M886.2 372.8h0M890.3 374h0M902.2 372.2h0M905.4 373.6h0M909.3 375.6h0M912.5 375.7h0M916.3 375.5h0M918.8 373.1h0M922 373.7h0M926.4 372.8h0M929.7 375.9h0M933.5 378.2h0M936.3 379.2h0M938 380h0M942.4 380.3h0M946.3 378.1h0M948.4 377.1h0M951.6 374.8h0M956.4 373.7h0M957.5 369.8h0M954.9 368.1h0M952.7 366.4h0M949.2 364.6h0M945.6 361.3h0M941.3 362.7h0M937.4 361.5h0M934.2 360.4h0M932 358.8h0M927.9 357.1h0M924.9 356.3h0M920.6 352.8h0M919.2 351.7h0M919.3 353.9h0M922 358.5h0M922.3 362.3h0M920.9 364.5h0M917.4 367h0M914 366.9h0M910.8 367.2h0M908.1 367.5h0M903.8 369.2h0M920.3 396.9h0M922.4 394.4h0M924.8 391.8h0M920.8 394.7h0M908.8 534.1h0M905.8 536.7h0M903.3 538.4h0M900 540h0M897.3 543.5h0M894.5 546.5h0M893.9 549.5h0M891.5 553.3h0M889.5 556.7h0M888.1 559.3h0M886.3 563.5h0M885.9 565.9h0M886.2 569.9h0M884.9 572.8h0M884.6 578.5h0M885.6 583.1h0M884.9 585.1h0M885.7 587.8h0M888.6 590.6h0M887.4 585.1h0M886 581.1h0M885.3 576.7h0M886.7 572.7h0M886.5 568.3h0M888.5 563.5h0M888.5 561.2h0M891.6 557.5h0M892.6 554.9h0M896.6 552.8h0M898 552h0M900.1 548.2h0M902.8 544.3h0M904.7 541.9h0M906.6 538.9h0M908.6 536.1h0M538.4 261.2h0M538.6 263.6h0M538.4 257.5h0M543.1 254h0M546.2 251.9h0M548.4 248.8h0M551.5 247.8h0M554.7 247.4h0M555.9 245.2h0M560.6 243.5h0M562.9 247.2h0M565.1 247.5h0M569.5 247.9h0M572.6 247.8h0M575.1 247h0M577.9 241.7h0M578.6 238.6h0M581.5 239.9h0M583.8 241h0M582.7 244.7h0M581.2 246.2h0M586 246h0M588.8 245.8h0M593.2 243.9h0M595.9 242.6h0M597.6 240.5h0M601.7 239.8h0M602.8 242.2h0M607.1 242h0M611.2 243.2h0M616.1 240.7h0M617.6 240.6h0M614 239.8h0M610.5 238h0M606.3 237h0M603.6 235.2h0M600 234.6h0M596.8 232.3h0M591.6 231h0M588.7 226.9h0M585.9 223.3h0M581.1 221.4h0M578.3 222h0M575.4 221.5h0M572.2 221h0M569.2 219.8h0M567.3 218.4h0M563.8 216.6h0M560.4 215.3h0M556.5 216.4h0M552.1 215.5h0M548.2 213.5h0M543.8 211.9h0M539.2 211.5h0M535.5 213.3h0M532.7 215.9h0M530.6 220.9h0M530.6 223.4h0M532.3 227.9h0M529.6 230.1h0M527.8 232.2h0M524.7 233.9h0M522.7 236.3h0M518.5 238.5h0M523.4 235.3h0M526.3 234.7h0M529.8 233.8h0M531 235.5h0M532.8 238.8h0M532.9 241.8h0M533.5 246.5h0M531.8 249.7h0M531.6 251.9h0M533.4 255.2h0M536 256.2h0M570.4 237.6h0M572.6 239.6h0M572.2 243.5h0M569.1 245.2h0M566.4 243.5h0M566 241.3h0M567.5 237.9h0M554.7 242.7h0M552 244.6h0M548.3 243.7h0M547.2 240.7h0M549.3 239.1h0M551.1 237.6h0M555.3 240.2h0M622.8 241.7h0M626.3 244.2h0M631.2 244.3h0M634.5 246h0M639.4 247h0M643.2 247.9h0M648.1 248.6h0M651.6 250.1h0M654.7 250.6h0M658.1 252h0M662.8 253.3h0M665.3 254h0M669.7 254h0M674.2 254.4h0M680 253.3h0M683.6 253.4h0M685.7 254.4h0M689.4 258h0M693.9 258.2h0M697.5 257.1h0M697.5 253.9h0M697.7 248.1h0M697.2 245.8h0M694 246.6h0M690.9 243.5h0M694 239.7h0M697.5 238.6h0M703.5 237.4h0M706.4 237.2h0M711.3 237.9h0M713.6 237.3h0M718.1 237.7h0M718.5 235.4h0M720.7 232.6h0M718.5 231.6h0M717.4 227.6h0M719.1 225.6h0M722.1 225.6h0M723.1 229.6h0M726.9 230.9h0M725 227.7h0M724.1 223.6h0M724.7 221.8h0M728.6 219.2h0M730.4 221.3h0M732.3 221.9h0M734.9 224h0M736.1 227h0M732.8 229.7h0M737 231h0M737.9 233.9h0M736.7 238h0M732.4 236.1h0M730.6 235.5h0M726.8 239.1h0M724.8 239.4h0M729.4 241.5h0M732.1 241.5h0M736.3 242.4h0M737.6 245.6h0M741.3 243.8h0M743.9 246.1h0M743 249.1h0M745.2 250.5h0M748.1 248.4h0M750.5 246.9h0M753.1 245h0M755 245.2h0M752.6 249.7h0M751.6 251.4h0M748.8 253.3h0M751.8 256.6h0M755.2 258.1h0M758.1 261.8h0M759.9 263.7h0M760.7 266.7h0M763.5 268.6h0M766 269.6h0M769.8 273.8h0M772.2 275.4h0M773.5 278.4h0M774.9 281.6h0M774.3 285.1h0M770.6 288.1h0M765.3 288.8h0M764.3 287.5h0M761.4 285.1h0M761.5 288.9h0M761.3 291.1h0M764 293.8h0M762.9 296.7h0M762.8 300.1h0M763.5 303.5h0M766.2 307.7h0M770.3 309.2h0M773.1 311.7h0M775.3 314.1h0M776.6 316.4h0M780.2 317.5h0M784 318.7h0M788.6 320.2h0M792.1 321.2h0M793.2 315.6h0M796.2 312.7h0M799.3 309.1h0M799.7 304.8h0M796.1 303h0M796.1 300.4h0M799.2 298.8h0M801.8 297.6h0M806 295.9h0M808.5 295.8h0M811.2 296.8h0M815.5 299.2h0M818.1 300.9h0M822.7 300.3h0M826.1 297.5h0M828.7 294.5h0M829.3 290.4h0M831.5 286.8h0M829.7 281.9h0M826.9 279.6h0M824 279h0M820.5 276.6h0M818.4 273.5h0M816 272.7h0M812.6 269.6h0M808.8 266.3h0M804.8 266.6h0M800.2 268.3h0M796.9 269h0M792.1 268.5h0M789 269.4h0M788.5 263.8h0M788.5 260.8h0M787.7 257.7h0M785.9 252.2h0M787.5 249.1h0M791.5 249.8h0M793.2 247.3h0M797.7 245h0M802.4 242.4h0M804.6 240.4h0M807.6 238.5h0M810.2 236.6h0M811.4 233.7h0M814.5 230.6h0M817.3 227.9h0M818.1 224.4h0M819.2 220.1h0M819.3 217.5h0M813.6 215.9h0M810.5 215.5h0M806.6 215.4h0M804.2 216.3h0M799.4 216.4h0M795 214.3h0M790.6 213.1h0M787.4 212h0M782.3 210.3h0M777.4 208h0M774.1 206.1h0M770 205.1h0M766.9 203.6h0M762.9 201.6h0M759.1 199.5h0M754.2 197.5h0M750.8 196.1h0M747.2 194.2h0M745.2 192.8h0M743.1 189.9h0M741.1 188.1h0M737.8 184.2h0M733.8 180.8h0M729.7 177.9h0M733.3 176.2h0M736.2 173.6h0M737 171.6h0M734.8 168.5h0M734.4 165.2h0M735.6 160.5h0M733.8 155.5h0M731.9 152.5h0M734.2 147.4h0M732.1 146.2h0M727.9 142.6h0M728.3 140h0M728.4 137h0M724.9 134.4h0M722.4 130.2h0M720.2 129.1h0M719.2 125.7h0M715.5 122.9h0M711.5 121.3h0M707.8 118.8h0M703 119.4h0M699.2 118.4h0M697.4 118h0M693.3 116.7h0M688.4 117.1h0M683.7 115.7h0M681.9 115.6h0M678.1 114.9h0M674.9 114.4h0M670.6 114.8h0M667.2 115.2h0M662.1 115.7h0M658.2 116.6h0M655.4 119.6h0M653.9 123.3h0M653 125.6h0M653.1 130.2h0M652.2 133.9h0M652.8 139.6h0M651.6 143.7h0M651.6 148h0M651.9 151.1h0M652 153.7h0M653.4 158.8h0M653.9 161.9h0M654.3 165.6h0M656.1 168.7h0M656.9 171.1h0M658.4 175.2h0M661 178.3h0M662.4 182.5h0M663.5 186.8h0M665.2 189.1h0M666.9 193.2h0M670 196.9h0M669.7 199.2h0M667.8 203.4h0M667.1 206.9h0M667.5 210.7h0M668.6 214.4h0M667.2 219.2h0M665 222.2h0M663.5 227.2h0M661.4 229.6h0M659.4 233.2h0M656.7 235.4h0M655.1 236.3h0M651.5 237.7h0M647.1 240.3h0M646 242h0M642.9 245.6h0M639.3 244.6h0M634.7 244.4h0M631.9 243.1h0M628.2 242.1h0M624.9 240.9h0M787.7 225.6h0M792.2 226.8h0M793.4 230.3h0M791.9 232.2h0M791 234.3h0M786.9 238h0M784.4 235.4h0M784.7 233.4h0M787.3 231.1h0M785 229.4h0M783.6 302.8h0M782.5 300.6h0M777.9 298.7h0M776.6 295.3h0M776.4 291.2h0M777.9 289.8h0M780.6 287.9h0M785.5 287.6h0M786.8 289h0M789.6 291.3h0M791.9 295.7h0M791.3 300.3h0M789.5 301.7h0M786.2 302.7h0M778.9 232.1h0M780.5 234.2h0M779.1 238.1h0M776.8 238.4h0M773.7 235.3h0M775.5 231.3h0M776.6 231.6h0M771.8 257.5h0M774.2 256h0M777.2 256.8h0M779.4 260.8h0M776.8 262.6h0M772.4 261.8h0M771.7 258.4h0M772.5 231.8h0M772.2 233.3h0M768.9 236.5h0M767 235.9h0M764.9 233.6h0M767.1 229h0M761.7 255.5h0M763.9 255.6h0M766 258.2h0M765.1 261.3h0M761.5 262.9h0M759.3 260.5h0M762 241.3h0M765.2 244h0M762.8 246.6h0M757.8 246h0M759.8 241.9h0M751.1 231h0M754.5 228.8h0M756.8 228.9h0M757.8 232.8h0M754.5 237.7h0M750.7 237.5h0M749.7 233.2h0M747.8 230.8h0M745.3 234.2h0M742.3 232.9h0M741.8 229.5h0M745.7 228.7h0M742.4 218.2h0M742.8 223.4h0M739.9 224.5h0M737.6 223.2h0M738.3 219.9h0M741.3 217.8h0M721.7 210.2h0M724.6 209.5h0M729.2 211.8h0M729.7 215.3h0M727.1 217.4h0M723.2 215.8h0M720.9 212.7h0M723.8 218.5h0M723.5 221.3h0M721.7 223.6h0M718.8 223.7h0M716 220.9h0M719.3 217.1h0M669.4 218h0M670.5 215.5h0M671.6 212.1h0M673.9 207.7h0M677.3 204.1h0M675.1 199.6h0M675.1 195.2h0M677.4 192h0M680.1 188.9h0M681.9 189h0M685.8 190.4h0M689.4 191.9h0M692.3 194.2h0M696.4 195.8h0M698.6 197.4h0M702.8 198.9h0M704.6 201.4h0M706.8 202.7h0M707.5 205.5h0M709.8 200.9h0M713.9 201h0M717.4 205.3h0M715.1 207.1h0M716.1 209.1h0M712.5 211h0M708.5 210.3h0M705 209.5h0M704.2 214.4h0M703 216h0M703.9 220.6h0M702.4 222.3h0M699.7 227h0M696.5 228.6h0M693.1 229.7h0M690 231h0M689.6 233.9h0M685.3 234.7h0M682.9 232.6h0M681.2 234.9h0M675.4 235.8h0M674.8 233.7h0M671.5 230h0M670.1 225.1h0M668.9 221.5h0M701.6 227.2h0M706.8 227.2h0M708.6 230h0M705.6 232.4h0M704.3 232.7h0M700.9 233.3h0M698 231.1h0M700.2 226.9h0M798.8 785.5h0M800.3 781.7h0M801.2 779.2h0M799.2 776.2h0M794 779.3h0M791.3 781.9h0M787.5 783.9h0M784.8 784.2h0M786.3 786.2h0M789.1 785.5h0M791.7 789.5h0M793.1 791.1h0M795.8 794.8h0M799.7 795.8h0M800.3 793.8h0M799.2 790.2h0M723.8 601.4h0M728.1 603.2h0M730.3 604.5h0M733.3 605.9h0M736.3 605.6h0M740.1 604.9h0M745.4 606.2h0M750.2 603.8h0M753.7 603.4h0M757 603h0M760.1 602.8h0M764.2 601.1h0M766.9 599h0M770.4 597.5h0M772.1 594.4h0M775.1 590.4h0M775.1 586.4h0M775.3 582.3h0M773.9 580.3h0M768.3 580.5h0M766.1 579.7h0M761.2 578.7h0M759 580.4h0M755.1 584h0M752 583.6h0M746.1 585.2h0M744 586.2h0M742.5 589.7h0M739.6 590.1h0M736.3 590h0M732.4 590.5h0M727.8 590.8h0M723.3 590.3h0M720.1 589.8h0M714.8 588.4h0M711.4 588.4h0M708.1 586.5h0M706.2 583.5h0M703.3 579.8h0M699.2 577.8h0M695.5 577.1h0M698.3 580.6h0M701.4 582h0M703.5 583.4h0M705 585.7h0M708.2 589.4h0M710.4 592.8h0M713.8 596.7h0M716.5 597.9h0M721.1 599.4h0M733.4 554.4h0M735.1 556.8h0M737.9 561.4h0M739.4 564.1h0M741.1 567.7h0M738.1 570h0M741.1 573.4h0M744.8 575h0M747.9 576.1h0M751 576.2h0M753.1 574.4h0M752.3 569.8h0M751.4 566h0M752.2 562h0M748.5 559.4h0M745.5 557.6h0M746.4 553.7h0M747 551.3h0M745.5 548.7h0M740.4 546.9h0M740.1 549.4h0M735.5 549.5h0M734.2 547.1h0M736.4 544.7h0M739.8 544.7h0M740.3 543.6h0M743.6 541.4h0M740.6 539h0M737.1 536.5h0M733.8 533.3h0M731.2 533.5h0M729 535.1h0M726.1 539.5h0M727.2 542h0M730.4 544h0M732.1 545.9h0M731.9 550.9h0M730.3 553.9h0M738.3 559.6h0M738.6 557h0M743.4 558h0M744.5 560.1h0M744.4 562.1h0M741.7 563.1h0M739.6 561.6h0M742.7 790.4h0M740.7 790.7h0M740.1 793.9h0M737.7 797.6h0M736.9 800.8h0M738.8 798.6h0M741.6 795h0M744.7 792.4h0M704.6 270.3h0M709.4 271.3h0M713.1 271h0M713.4 272.4h0M709.4 271.1h0M706.2 271.3h0M719.9 273.1h0M723 274.2h0M726.5 275.9h0M728.8 275.4h0M731.6 279.2h0M734.7 280.1h0M736.9 277.7h0M740.5 272.8h0M742.7 269.7h0M740.7 268.6h0M735.9 270.4h0M733.3 271.4h0M728.9 272.3h0M725.7 272.8h0M721.5 272.5h0M698.3 831.6h0M699.1 835.9h0M697.8 838.8h0M696.8 840.4h0M694.3 843.9h0M692.5 844.2h0M689.2 845.7h0M686 847h0M684.2 851.6h0M687.1 854.3h0M689.4 858.2h0M692.7 860.1h0M697.6 861.5h0M701.4 860.3h0M706.7 861.5h0M710.5 862.7h0M713.4 860.7h0M717.2 860.2h0M720.3 858.9h0M723.9 858.9h0M728.5 857.9h0M730.3 854.8h0M731.7 852.8h0M734 848.4h0M735.9 843.5h0M733.3 840.4h0M730.3 839.5h0M727 840.7h0M724.3 841.6h0M720.5 840.9h0M716.8 839.4h0M713.2 837.4h0M710.6 836.2h0M713.1 830.8h0M713.9 825.8h0M717.3 826.9h0M719 830.1h0M720.8 828h0M717.1 825.4h0M714.5 821.3h0M711.3 821.1h0M708.7 823.8h0M708.2 827h0M705.5 830.3h0M702.5 832.8h0M698.9 830.8h0M715.1 718.9h0M718.1 721.2h0M722.6 721.4h0M726.3 718.6h0M729.8 717.8h0M730.6 715.6h0M727.9 715.7h0M723.6 717.6h0M719.6 718h0M714.8 718.3h0M714.6 565.4h0M714.1 563.1h0M715.6 557.3h0M718.7 554.8h0M718.7 555.3h0M715 558.7h0M715.2 561.2h0M719.7 554.1h0M434.7 441.2h0M435.6 444.8h0M438.1 445.5h0M441.7 446.7h0M445 447.9h0M448.6 450.6h0M451.1 452h0M454.4 456.3h0M456.1 458h0M457.9 461.8h0M460.7 463.4h0M459.7 468.7h0M459 470.2h0M462.9 469h0M468.7 467.3h0M470.4 469.2h0M475 470h0M477.5 472.5h0M480.2 476.6h0M485.1 478h0M486.9 479.4h0M486.8 482h0M485.5 487.9h0M482.9 489.3h0M482 490.9h0M487.4 492.5h0M485.1 496.4h0M481.7 499h0M478.3 500.9h0M475.8 503.6h0M474.5 509h0M471.6 511.6h0M468.4 516.3h0M466 518.9h0M463.4 520h0M460.5 521.3h0M455.2 522.2h0M451.6 521.4h0M446.4 522.1h0M443.6 522.9h0M439.5 524.7h0M435.2 525.3h0M431.2 527.3h0M429.2 529.9h0M426.6 532.2h0M423.9 534.7h0M421.2 536.4h0M419.1 539.3h0M418.4 543.5h0M416.6 545.7h0M414.6 548.6h0M415.1 553.5h0M416 555.7h0M415.3 561.1h0M417.8 564.1h0M418.5 566.8h0M420.4 570h0M421.1 575h0M421.6 576.9h0M424.3 582.4h0M425.5 585.2h0M427.1 587.9h0M429 593h0M431.8 594.3h0M434.5 595.7h0M437.9 597.4h0M441.4 597.3h0M443.6 597.5h0M447.9 597.7h0M451.8 598h0M456.8 596.9h0M460.4 597.6h0M464.8 597.1h0M468.8 597.3h0M472.4 597h0M476.3 597.4h0M479.3 594.5h0M484.1 593.4h0M489 589.6h0M492.7 587.2h0M495.6 585.2h0M496.9 584.6h0M500.6 580.9h0M502.6 578.4h0M505.7 575.2h0M508.7 571h0M510.3 569.3h0M511.4 567.3h0M512.5 563.2h0M514.7 558.8h0M517.4 555.6h0M517.6 551.6h0M516.3 548.2h0M514.5 542.9h0M514.6 540.1h0M514.6 537.8h0M513.2 533h0M515.8 530.2h0M517.6 528.4h0M520.4 524.6h0M521.8 521.3h0M524.1 517h0M527 513.3h0M526.5 509.8h0M523.7 508.1h0M523 505h0M520.8 502.6h0M523 500.6h0M527.6 498.7h0M531.1 499.5h0M530.2 501h0M530.1 505.5h0M529.8 511.1h0M532.6 508.3h0M533 504.9h0M534 502h0M537.1 500.2h0M539.8 500.4h0M541.4 503.3h0M541.7 506h0M545.2 508h0M549.2 505.7h0M554.7 504.9h0M557.3 503.2h0M559.2 502h0M562.4 502.3h0M564.1 502.5h0M562.6 500.2h0M562.2 495h0M561.9 490h0M561.8 486.3h0M562.8 483.9h0M563.4 480h0M567.3 477.8h0M569.4 476.9h0M571.7 476.1h0M575.2 475.5h0M580.9 473.9h0M584.9 472.2h0M587.8 471.7h0M591.1 470.8h0M596 468.3h0M599.7 469.3h0M602.7 469.3h0M605.9 469.5h0M610.5 467.8h0M612.2 467.6h0M617.1 466.5h0M619.5 467.4h0M622.2 466.5h0M623.9 463.2h0M625.5 462.5h0M627.5 461.9h0M629.1 464.7h0M630.7 464.1h0M633.7 464.6h0M638.4 464.8h0M643 464.2h0M646.9 463.2h0M648.2 462.5h0M652.6 461.7h0M657.3 461.8h0M660.2 461.4h0M665.5 460.3h0M667.8 462.2h0M669.7 463.5h0M673 464.2h0M675.6 466.2h0M679 468.5h0M681.9 470.3h0M686 473.3h0M688.1 474.7h0M690.6 475.7h0M696.1 477.6h0M701.1 477.2h0M704.3 475.9h0M707.3 474.8h0M711.2 475.1h0M715.6 471.4h0M717.1 469.5h0M717.8 466h0M717.4 460.7h0M718.8 457.5h0M718.2 453.4h0M717.5 450.7h0M714.8 448.2h0M711.2 443.7h0M708 442h0M706.9 441.2h0M705.3 437.8h0M703.6 435h0M700.2 431.6h0M696.6 431.1h0M694.4 429.6h0M691.5 427.1h0M689.5 427h0M686.9 424.8h0M684.7 421.4h0M682.5 420.9h0M678.9 421.5h0M673.7 420.9h0M670.2 422.8h0M667.1 424.4h0M664.7 425.8h0M659 426.5h0M656 428h0M653.6 426.8h0M650.4 426.6h0M646.8 427.1h0M645.3 428h0M649.3 428.6h0M651.3 432h0M647.7 433.8h0M645 434.7h0M642.3 435.8h0M640 434.4h0M635.3 432.8h0M637.2 428.5h0M639.8 426.2h0M637.9 423h0M635.7 420.6h0M631.4 418.8h0M629.5 413.8h0M625.9 411h0M621.5 408.5h0M619.6 404.5h0M617.4 401.7h0M614.5 398.4h0M612.4 396h0M609.8 392.2h0M609.5 389.9h0M607 387.7h0M603 384.1h0M600.5 380.5h0M596.7 379h0M592.3 378.9h0M588.3 379.7h0M585.5 381.3h0M582.9 383.4h0M580.7 387.3h0M578 392.8h0M577.9 396.1h0M577.1 399.5h0M576.4 403.1h0M577.8 407.6h0M579.7 412.5h0M580.8 416.5h0M581.6 418.3h0M584.5 421.5h0M585.1 424.5h0M581.1 425.8h0M576.8 427.4h0M574.5 429.6h0M572.5 430.7h0M573.3 431.8h0M578 432.9h0M575.6 436.5h0M572 436.9h0M567 437.5h0M563.8 438.5h0M560.7 439.8h0M558.8 442.8h0M556.2 445.1h0M554.5 448.6h0M552 453h0M551.9 456.3h0M555.3 453.7h0M559.4 454.4h0M561.5 457.6h0M560.1 460h0M555.3 461.1h0M553.6 462.7h0M550.8 462.9h0M547.7 463.8h0M545.4 466.4h0M543 467.7h0M540.5 471.9h0M536.4 472.5h0M534.3 471.1h0M534.2 467.4h0M532.2 464h0M530.7 459.5h0M529.5 454.6h0M529.7 450.4h0M528 447.8h0M525.8 444.9h0M526.9 442.2h0M524.1 440h0M520.8 436.9h0M523 434.9h0M521.2 431.7h0M522.2 427.3h0M521 425h0M518.9 422.6h0M516.1 420.2h0M512.3 418.2h0M510.1 420.4h0M506.4 419.5h0M504.7 424h0M504.8 427.1h0M504.2 431.5h0M506.1 433.7h0M507.1 436h0M507.8 441.3h0M503.2 442h0M502.1 441.8h0M499.6 444.6h0M496 447.2h0M492.6 447.8h0M489 446.2h0M487.4 446.7h0M483.7 446.2h0M480.3 447.8h0M477.3 447.2h0M472.7 445.9h0M468.9 445.2h0M464.7 443.4h0M462.2 442.3h0M458.3 441.6h0M454.7 442.4h0M451.1 442.5h0M446.8 443.5h0M442.9 443.5h0M438.8 443.7h0M435.4 443.1h0M649 438.9h0M652.9 439.3h0M656.1 441.2h0M660.5 438.5h0M662.1 436.3h0M667.5 437.5h0M668.8 441.3h0M665.7 442.3h0M661.8 444.9h0M659 447.2h0M657.8 445.5h0M656.1 445.8h0M651.8 446.3h0M649.1 446.4h0M648.9 447.7h0M644.8 450.9h0M642.6 451.8h0M641.9 449.1h0M641.8 445.2h0M641.7 442.7h0M643.8 438.9h0M648.6 436.6h0M668.1 430.9h0M666.3 432.7h0M661 435.1h0M659.1 431.4h0M660.3 428.1h0M664.3 427.9h0M667.7 430.3h0M652.7 453.9h0M656.5 455h0M657.2 457.6h0M655.6 459.3h0M652.3 459.6h0M651.6 455.3h0M623.3 449.2h0M622.4 444.9h0M626.3 443.6h0M628.9 442.9h0M631.4 439h0M634.8 439.6h0M635.8 443.3h0M634.8 446.1h0M635.7 448.9h0M634.8 451h0M638.1 453.4h0M635.1 458.1h0M631 455.2h0M627.2 454.8h0M623.4 453h0M623 451.1h0M607.5 423.8h0M612.1 423.4h0M613.3 427.2h0M616.2 427.2h0M620.2 425.2h0M621 427.6h0M622.5 431.9h0M624.2 435.3h0M619.8 437.7h0M616.6 438.6h0M613 440.7h0M612.6 438.7h0M612.4 433.3h0M610.7 431.5h0M610.6 428.8h0M606.6 425.9h0M616.6 459.6h0M620.4 462.1h0M617.2 465.8h0M614.6 466.3h0M615.6 461.1h0M603.9 457.9h0M606.9 455.6h0M607.2 453.3h0M611.7 452.5h0M614.1 455.8h0M614.8 458.5h0M613.4 461.2h0M609.2 462.9h0M606.2 463.5h0M603.7 461.9h0M603.6 458.9h0M600.5 418h0M601.7 415.7h0M604.9 417.7h0M606.4 420.6h0M602 421.9h0M599.4 421.3h0M584.2 458.1h0M586.7 457.5h0M589 455.5h0M590.9 458.4h0M589.4 462.6h0M586.8 462.4h0M584.1 466.9h0M581.8 466.7h0M579.6 464.9h0M580.8 459.4h0M564.4 457.1h0M567.3 454.9h0M567.4 452.6h0M565.6 449.2h0M567.8 447.8h0M571.7 447h0M573.8 450h0M574.7 454.4h0M577.1 459h0M575.4 460.1h0M572.6 460.4h0M569.8 462.5h0M565.2 461.4h0M565 458h0M568.2 439h0M571.1 439.9h0M571.8 443.2h0M567.9 444.2h0M566.9 443.4h0M567.4 439.9h0M561.6 481.9h0M559 485.1h0M555.1 484.6h0M554.6 481.7h0M556.6 479.7h0M548.4 497.2h0M549.5 501.5h0M548.9 505.2h0M546.4 506.7h0M542.7 504.8h0M543.6 500.6h0M545.5 497.4h0M539.3 476.5h0M541.9 478.7h0M540.1 482.8h0M536.5 480.9h0M535.6 477.9h0M525.2 492.5h0M528.2 489.2h0M531.9 490.5h0M534.7 490.5h0M537.2 494.6h0M534 496.7h0M529.9 496.6h0M526.6 495.4h0M511.3 451.5h0M515.6 449.6h0M518.4 452.9h0M520.2 456.2h0M524.1 455.9h0M527.9 456.2h0M529.4 458.9h0M528.3 463h0M527.7 466h0M523.6 466h0M518.7 465.2h0M514.8 463.9h0M514 461.6h0M511.7 457.3h0M512.6 455.6h0M493.3 486.8h0M492.5 482.8h0M491.3 479.7h0M490.8 475h0M491.7 470.3h0M494 471.2h0M499.7 471.1h0M503.2 470.4h0M506.4 470.9h0M510.5 471.1h0M512.5 472.8h0M515.1 475.3h0M517 478.8h0M517.6 481.9h0M516.6 486.1h0M518.5 490.1h0M519.9 492.8h0M518.1 495.5h0M513.9 496.1h0M511.6 499.9h0M508.8 500.8h0M505.4 501.5h0M500.5 502.7h0M497.5 499.7h0M495.7 500.8h0M491 500.3h0M489.8 498.2h0M492 493.6h0M491.4 490h0M509.9 433.7h0M513.3 432.5h0M515.7 435.6h0M516.1 438.5h0M513.9 440.7h0M510.6 440.3h0M508 436.3h0M508.9 445.4h0M511 449.3h0M508.3 452.9h0M507.3 454.6h0M503.1 452h0M504 448.5h0M505.3 446.1h0M481.5 470.7h0M484.6 468.5h0M486.1 468.9h0M487.6 471.5h0M485.2 473.9h0M481.9 473.5h0M482.9 526.6h0M482.2 531.8h0M478.1 532.9h0M475.9 530.5h0M476.2 527h0M479.6 524.5h0M461.7 552.7h0M464.7 551h0M466.9 550.8h0M470.8 549h0M470.2 547.3h0M474.2 545.2h0M478.2 544.9h0M481.3 543.3h0M481.6 548.8h0M481.6 553.8h0M481.8 554.9h0M478.3 554.4h0M474.9 552.7h0M471.4 552.9h0M471.1 555.3h0M468.6 558.2h0M465 557.5h0M462.3 554.1h0M459.2 534.7h0M456.8 532.7h0M455 530.8h0M455.1 526.2h0M456.2 522.9h0M460.5 522.4h0M464.6 522.4h0M465.9 523.6h0M466.2 526.7h0M465.3 532.1h0M464 534.2h0M460.6 534.9h0M462.2 555.4h0M463.8 559.7h0M462 563.2h0M459.7 563.9h0M457.1 561.7h0M457.2 558.8h0M459.5 554.6h0M421.3 557.5h0M424.2 552.7h0M426.3 552h0M428.4 550h0M431 548.6h0M433.5 547.3h0M434.5 544.1h0M434.5 541h0M437.4 538.9h0M439.7 541.5h0M437.7 545.2h0M439.5 548.2h0M441.6 552.5h0M444.4 552.8h0M446.1 550.2h0M443 547.9h0M445.1 547.7h0M449 547.9h0M453.2 549.6h0M457 550.1h0M458.3 550.3h0M454.9 555.9h0M453.5 558.5h0M451.5 557.7h0M447.9 560.3h0M445.5 556.9h0M442.1 559.5h0M439.3 563.3h0M436 563.4h0M434.2 563.9h0M430.6 563.6h0M428.3 561.7h0M424.5 563.1h0M421.1 560.1h0M448.8 536.8h0M452.5 537.9h0M454.2 540h0M453.3 541.3h0M449.2 541.9h0M447.1 539.6h0M442.5 532.3h0M444.5 528.6h0M448.6 530.6h0M451 532.6h0M447.8 534.3h0M446.8 536.5h0M444.5 540.3h0M441.9 540.9h0M438.9 538.4h0M439.1 535.2h0M442.5 532.2h0M434 533h0M435.3 535.9h0M431.8 540.4h0M426 539.8h0M424.8 536.5h0M428.8 533h0M431.6 531.8h0M508.2 412.3h0M506.2 408.6h0M505.9 405.9h0M503.7 401.1h0M502.2 396.8h0M501.2 394h0M499 389.8h0M496.9 386.9h0M495.4 382.5h0M493.7 377.9h0M491.4 375.9h0M493.9 379.1h0M495.5 383.2h0M497.7 387.2h0M499.6 390.5h0M500.6 393.3h0M501.3 396.3h0M503.3 401.5h0M505.6 403.8h0M505.9 406.5h0M507.1 410.1h0M506.3 412.9h0M546.4 517.9h0M549.5 520.4h0M552 522.2h0M556.4 526.3h0M559.9 529h0M562.9 530.6h0M566.1 533.4h0M568.2 534.5h0M570.2 537.8h0M574.1 540.6h0M577.2 543.8h0M578.6 547.4h0M580.9 548.5h0M586.3 550.7h0M590.3 552.7h0M589.3 551.9h0M586.2 549.5h0M582.8 546.5h0M578.8 542.5h0M576.2 541.3h0M572.4 537.7h0M568.9 535.1h0M566.6 532.1h0M565.3 530.1h0M561.6 527.3h0M558.5 523.1h0M555.8 521.1h0M552.7 518.1h0M549.6 516.5h0M545.7 516.7h0M552.6 528.9h0M552.4 528.2h0M690.5 932.5h0M693.6 935.2h0M697.5 936.5h0M700.6 937.9h0M702.9 939.8h0M707.3 943.9h0M706.6 945.9h0M704.8 948.8h0M706.1 951.6h0M708.8 949.5h0M711.5 945.8h0M716.5 944.7h0M719.5 940h0M717.1 937.7h0M712.9 934.7h0M708.6 934.2h0M702.9 933.4h0M698.3 935.1h0M696.6 934.6h0M693 933h0M594.7 702.8h0M599 705.3h0M601.7 708.1h0M604.4 711.1h0M607.1 710h0M610.3 707.6h0M615.4 708.2h0M618.7 706.4h0M622.2 707.4h0M624.6 707.6h0M629.1 705.1h0M633.5 703.7h0M638.4 705.3h0M642.8 707.8h0M645.2 709.6h0M647.8 709.1h0M651.2 710.9h0M653.1 713.7h0M655.4 715.5h0M658.7 718h0M660.5 720.4h0M662.9 725h0M665.4 727.9h0M667.6 732.3h0M668.1 735.6h0M671 734.1h0M670.1 732.7h0M669 729.6h0M669.8 725.7h0M669.7 723.7h0M669.3 718.7h0M669 716.4h0M668.8 711.8h0M665.7 707.7h0M663.6 705.9h0M661.4 702.9h0M661.8 698.8h0M660.7 696.5h0M657.2 694h0M654.2 690.7h0M655.3 687.2h0M652.5 685.8h0M649.5 684.1h0M645.6 681.4h0M643.4 678.6h0M641 675.5h0M641.7 672.8h0M642.5 667.1h0M641.9 663.1h0M645.9 660.2h0M639.9 658.5h0M636.1 656.6h0M634.1 655.9h0M631 659.3h0M626.9 657.3h0M624.7 654.7h0M622.7 652.7h0M618.6 648.5h0M616.6 647.7h0M614.1 645.7h0M609.8 644.3h0M605.1 644.5h0M600.9 644.4h0M597.4 646h0M593.1 645.8h0M591.4 649h0M589.7 653.6h0M589.7 656.9h0M588.6 659.8h0M588.4 664.5h0M587.3 667.8h0M587.3 672h0M586.8 674.4h0M587.2 679.3h0M587.6 682.7h0M589.4 686.1h0M589.2 691.1h0M590.9 694.3h0M591.9 698.9h0M593.6 702.6h0M649.1 699.4h0M648.6 701.9h0M647.2 704.7h0M644 704.1h0M639 703.9h0M636.1 703.1h0M635.2 698.2h0M633.7 695.7h0M638.4 695.9h0M641.5 696.8h0M645.6 696.7h0M604.3 849.2h0M603.9 847.3h0M604.5 843.2h0M602.2 842.1h0M599.9 844.2h0M600 846.3h0M603.4 849.2h0M604.3 852.5h0M604.6 854.7h0M605.8 859.5h0M608.1 863.8h0M610.5 866.9h0M613.4 871.1h0M612.3 874.5h0M613.9 877.2h0M615.5 881.2h0M616.6 886.3h0M617.1 889h0M616.9 892.8h0M619 895.9h0M621.9 899.6h0M623.8 904.6h0M624.4 907.5h0M625.2 911.9h0M623.1 916.1h0M619.1 920.1h0M618.5 924.2h0M621 926.7h0M625.3 924.4h0M626.4 921h0M629 919.8h0M632.2 917.1h0M633.8 913.2h0M634.3 910.7h0M632.2 906.5h0M628.8 903.9h0M626.3 898.8h0M623.6 895h0M622.2 890.6h0M621.3 887.3h0M618.8 883.5h0M619.7 880.2h0M618.7 878.6h0M615.3 875.5h0M613.6 871.4h0M611.4 869.2h0M610.4 865.3h0M609.3 859.2h0M607.2 855.9h0M606.5 853.2h0M638.7 916h0M643.6 915.6h0M647.7 916.4h0M649.4 917.4h0M654.3 917.3h0M658.2 918.7h0M659.4 921.5h0M658.4 919.7h0M652.8 917.7h0M649.8 915.9h0M646.9 914h0M641.9 913.9h0M639 915.7h0M650.3 983.2h0M571.3 755.2h0M572 752h0M574.2 749.7h0M576.5 745.9h0M578.3 742.1h0M580.4 739.2h0M582.2 734.9h0M585.8 731.9h0M586.4 728.1h0M589.7 725.2h0M591.9 721.2h0M593.9 717.1h0M591.4 714.8h0M588.9 717.2h0M588.3 721h0M587 724h0M586.3 726.7h0M584.7 729.5h0M582.8 732.9h0M580.3 736.4h0M578.2 740.1h0M576.1 743.8h0M574 746.9h0M572.6 751.1h0M570.5 754.9h0M571.5 757.4h0M574.1 770h0M571.5 767.9h0M570.7 765.9h0M567.5 764.5h0M562.1 763.4h0M558.8 764.6h0M554.2 764.2h0M551.6 763.4h0M548.3 762.8h0M543.1 764.4h0M538.7 765.8h0M536.6 767.7h0M535.3 770.7h0M535.2 773.8h0M537.6 777.3h0M540 779.4h0M543.8 780.2h0M546.3 782.7h0M548.9 781.8h0M552.2 782.6h0M556.9 783.3h0M561 783.5h0M564.9 781.6h0M569.2 780.8h0M571.2 778h0M573.2 774.5h0M547.5 794.8h0M547.3 792.5h0M548 789.8h0M546.1 788.6h0M545.3 793.4h0M546.6 795.9h0M538.6 311.8h0M536.4 315.4h0M534.3 318h0M532.7 321.4h0M533.8 321.9h0M538.2 318.8h0M542.6 317.7h0M545.3 315.1h0M546.6 310.1h0M545.4 309.7h0M541 308.9h0M509.8 1013.2h0M509.3 1017.6h0M512.3 1019.6h0M514.6 1018.9h0M517.4 1017.7h0M520.1 1015.6h0M524.2 1014.6h0M527.1 1011.2h0M527.4 1007.7h0M527.6 1005.6h0M528.3 1000.8h0M529.1 995.7h0M529 992.3h0M526.2 990.5h0M522.9 989.1h0M522.3 986.7h0M520.4 983.9h0M518.1 982.3h0M516.8 977.8h0M514.9 973.9h0M513.2 970.3h0M511.4 968h0M511.5 972.4h0M513.1 977.3h0M512.4 980.5h0M512.6 984.2h0M513 987.4h0M514 991.4h0M516.3 995.9h0M517.3 998.5h0M517 1003.4h0M515.3 1007.4h0M512.3 1009.3h0M510.8 1011h0M350.3 866.9h0M347 864.5h0M341.8 862.4h0M341.9 861.2h0M346.7 860.8h0M348.2 862.5h0M351.6 863.1h0M354.5 863.9h0M358.8 864.1h0M362.6 865.6h0M363.1 869.6h0M366.2 871.6h0M370.7 873h0M374.9 873h0M378.6 872.6h0M383.8 872h0M386.5 871.5h0M389.8 868.7h0M390.8 863.7h0M391.3 861.2h0M390.4 857.6h0M389.2 856.9h0M387.6 853.3h0M388 850.4h0M386.9 844.6h0M386.8 842.7h0M391.5 843.4h0M395.1 842.2h0M394.8 844.5h0M395.3 849h0M399.5 849.5h0M402 846.3h0M403.8 843.6h0M406.4 843.3h0M410 843.1h0M414.7 842.3h0M416.9 842.2h0M421.6 842h0M425.4 843.8h0M429 843.9h0M431.8 847.2h0M435 849.8h0M433.3 853.3h0M436.1 858.2h0M436 861.1h0M438.1 863.7h0M438.9 866.3h0M440.1 869h0M445.7 871.4h0M448.5 869.4h0M452.1 868.3h0M454.9 867.3h0M458.6 867.7h0M462 869.1h0M465.5 868.9h0M471.6 870.8h0M475.8 873.8h0M477.7 875.7h0M479 881.1h0M480.4 880.6h0M484.4 882.8h0M487.3 883.4h0M490.7 884.4h0M491.4 886.9h0M491.2 889.8h0M492.5 889.1h0M497 886.8h0M498.2 885h0M502.5 882h0M506 882.3h0M507.8 877h0M506.1 873.5h0M504.3 871.8h0M500.2 870.8h0M497 870.2h0M492.8 866.7h0M489.3 867.1h0M486.9 866.7h0M482.4 866.2h0M478.4 865.4h0M477.6 861.5h0M477 858.6h0M474.4 855.3h0M471.8 852.4h0M469.6 849h0M466.2 846.7h0M463.2 845.2h0M459.9 844.3h0M457.2 842.4h0M453.5 841.5h0M448.5 838.5h0M446.7 837.4h0M443.3 836.2h0M438.7 835.2h0M436.3 832.3h0M434.5 828.9h0M431.8 827.7h0M428.3 824.3h0M426.2 821.5h0M422.2 819h0M419.3 818.1h0M415.4 816.8h0M410.6 813h0M407.6 811.1h0M408 808.3h0M406.4 804.5h0M403.5 803.6h0M405.9 797.4h0M404.2 795.2h0M403.2 791.1h0M401.1 787.2h0M401.1 783.3h0M400.3 779.6h0M397.3 777.9h0M396.5 774.6h0M397.3 770.5h0M395.2 765.5h0M389.5 765.4h0M388.4 763h0M385.3 761.1h0M384.7 756.9h0M384.5 752.1h0M385.4 748.4h0M385.2 744.7h0M384.5 740.6h0M385.8 738h0M386.1 736.1h0M383.7 732.4h0M380.4 730.5h0M377.5 728.2h0M374 727.2h0M371.3 724.5h0M367.6 723.1h0M364.6 722.3h0M360.1 720.7h0M356.4 719.9h0M354.1 720.3h0M349.8 718.9h0M345.6 717.9h0M341.5 717.7h0M338.3 717.3h0M335.1 717.9h0M332.2 719.7h0M330.8 722h0M326.9 724h0M324.8 728h0M321.2 730h0M320 733h0M321 737.2h0M318.5 740.1h0M316.2 743h0M319.3 746.3h0M317 750.5h0M315.9 753.5h0M315.9 757.7h0M316.1 760.2h0M314.3 762.1h0M312 766.4h0M311.5 770.3h0M310.4 774.2h0M308.3 776h0M306.1 778.6h0M305.6 782.6h0M305 785.2h0M304.3 788.3h0M304 792.2h0M304 797.2h0M306 801.4h0M303.3 802.6h0M300.1 805.4h0M296.6 807.7h0M294 811.8h0M292.6 814.3h0M291.5 816.7h0M287.9 820.2h0M286.3 824.9h0M286 828.7h0M286.6 834h0M287.4 836.1h0M288.8 840.3h0M289.3 842.7h0M289.9 846.1h0M291 849.9h0M291.5 852.8h0M296.1 855.2h0M299.9 857.1h0M302.6 859h0M305.8 861.3h0M309.9 863h0M313.7 864.2h0M317.5 862.7h0M320.3 863h0M322.8 864.7h0M327.2 864.9h0M331.6 865.2h0M336.1 864h0M341.1 864.6h0M343.8 865.3h0M347.4 867h0M381.2 744.9h0M378.1 749.4h0M374.1 747.9h0M372.6 744.5h0M377.1 743.1h0M379.7 743.4h0M363.9 733.4h0M367 733h0M371.2 731.8h0M373.6 735.4h0M372.9 738.5h0M369.3 737.7h0M365.4 738.6h0M363 736.2h0M358.4 742.8h0M362 743.8h0M363.7 745.6h0M367.3 746.6h0M366.2 751h0M365.2 753.9h0M363.8 754.1h0M359.8 753.8h0M360.8 749.7h0M357.4 748h0M357.7 745.2h0M428.5 853.3h0M425.9 852.6h0M425.7 856.4h0M424.1 858.3h0M428 860.7h0M427.8 864.3h0M427.7 868.9h0M432 868.4h0M434.2 870.2h0M435.6 867h0M434.1 865.4h0M431.8 862.6h0M429.9 859.1h0M426.8 855.4h0M421.3 849.8h0M418.4 849.3h0M415 851.2h0M417.7 854.2h0M421.1 851.8h0M413.2 851.9h0M411.7 852.7h0M417.2 856.7h0M416 857.4h0M417.8 861.5h0M417.9 862.8h0M418.4 859.5h0M504.8 932.9h0M506.6 935.3h0M501.4 915.1h0M502.5 920.3h0M503.8 923.2h0M503.8 920.7h0M501.9 915.9h0M500.4 915.5h0M488.5 349.3h0M488.9 345.1h0M486.4 347h0M483.1 347.7h0M479.3 349.2h0M475.5 350.5h0M475.8 353.9h0M478 356.5h0M480.8 360.4h0M481.2 363.1h0M484 365.4h0M487.5 361.2h0M487 356.3h0M487.4 351.1h0M377.1 416.6h0M380.9 420.8h0M382.4 424.7h0M384.9 426.2h0M387.3 429.5h0M391.8 432.6h0M393.9 434h0M397.3 436.4h0M400 440.8h0M403.8 442.4h0M406.9 443.3h0M410 443.4h0M412.1 441.6h0M412.7 437.7h0M415 435.4h0M418 435.7h0M420.1 440.4h0M419.1 442.7h0M421.1 443.4h0M424.2 442.5h0M427.7 442.7h0M425.9 439.2h0M423.9 435.3h0M422 433.4h0M420.6 430.9h0M416.1 430.3h0M414.1 429.3h0M411.2 429.6h0M408.5 426.2h0M408.4 423h0M404.5 422.2h0M405.7 418h0M408.3 416.9h0M411.4 416.7h0M412.7 421.5h0M418.1 421.5h0M417.7 421h0M417.4 419.4h0M413.7 416.3h0M410.1 414.1h0M407.3 416.2h0M404.4 417.4h0M401.6 415.7h0M401.3 409.7h0M402.1 406.7h0M403.7 406h0M407.8 406.7h0M410 407.4h0M413.5 407.4h0M416.4 405.1h0M420.4 402.8h0M423.6 404.3h0M423 407.3h0M420.1 410.9h0M418.5 413.3h0M419.7 412.2h0M423.9 411.9h0M425.6 411.8h0M426.8 408.1h0M430.2 404.7h0M432.9 401.6h0M437.2 400.1h0M440.2 399.3h0M439.6 396.7h0M437 396.8h0M432.8 397.6h0M429.3 397.7h0M423.8 396.6h0M420.1 396.9h0M418 395.5h0M412.8 393.7h0M410 392.1h0M405.8 391.1h0M402.8 389.6h0M399 387.7h0M395.5 386.1h0M392.8 385.8h0M390.8 384h0M387 385.7h0M385 389.2h0M383 393.7h0M380.7 397.2h0M378.5 400.3h0M376.7 401.7h0M376.1 406.6h0M375 409.9h0M375.3 413.6h0M427.1 418.9h0M431.5 415.5h0M434.3 415.5h0M437.7 413.6h0M440.5 412.7h0M443.6 414.1h0M448.6 414.7h0M450.9 417.9h0M453.9 419.5h0M455.4 421.8h0M458.8 424.7h0M459.7 428.2h0M462.2 429.4h0M464.2 432.3h0M465.8 435.2h0M468.5 436.8h0M470.8 439.9h0M474.7 441.1h0M477 439.9h0M473.7 437.1h0M470.3 435.5h0M468.9 432.4h0M466.5 431.5h0M465 428.3h0M461 425.7h0M460.2 421h0M456.7 417.6h0M453.3 415.7h0M451.9 413h0M447.9 411.9h0M442.7 410h0M440.1 410.4h0M435.2 410.8h0M431.2 413.8h0M427.9 414.9h0M423.4 425.9h0M428.4 558.6h0M437.9 1040h0M433.4 1044.1h0M430.9 1045.8h0M432.7 1045.4h0M436.9 1042.9h0M438.1 1040.4h0M187.2 569h0M191 570.2h0M193 571.1h0M199.1 570.5h0M203.6 570.6h0M207.3 569.8h0M210.4 573.3h0M212.8 575.5h0M215.4 576.6h0M219.6 578.7h0M222.4 580.2h0M226.3 578.9h0M228.4 576.5h0M232.2 575.3h0M233.5 573.8h0M236.2 574.7h0M239.5 575.9h0M242.7 575.9h0M244.5 573.7h0M242.7 571.3h0M238.6 567.8h0M236 565h0M232.3 563.3h0M231.5 559.2h0M231.3 555.1h0M234.9 553.6h0M238.4 552.4h0M241.4 551.2h0M246.3 549.4h0M249.7 547.2h0M251.9 546.1h0M254.7 543.8h0M257.8 542.6h0M261.9 540.9h0M266 537.2h0M270.3 535.2h0M272.8 533.1h0M275.8 532.5h0M279.9 531.1h0M275.9 530.6h0M272.9 529.4h0M268.1 530.2h0M263.8 528.6h0M259.5 527.1h0M256.7 527.2h0M252.6 528.8h0M250.7 526.1h0M247.4 523h0M248.7 520.3h0M245.8 516.6h0M240.8 516.4h0M237 514.4h0M240.3 511.4h0M243.7 507.5h0M247.7 504.8h0M251.2 503.1h0M253.1 500.1h0M255.7 496.7h0M258.5 493.4h0M258.7 488.5h0M254.6 486.9h0M250.9 488.4h0M249.2 493.1h0M245 495.2h0M240.4 497h0M237.1 500.6h0M235.2 503.2h0M233.9 504.7h0M230.8 508.1h0M231.8 511.6h0M235.8 512.1h0M236.8 513.7h0M238.3 519.6h0M239.6 523.4h0M239 523h0M235.2 521.7h0M231 518.7h0M230.5 516.1h0M228.8 513.1h0M227 511h0M226.5 508.1h0M223 505.4h0M219.7 504.5h0M216.1 503.2h0M210.1 502.3h0M207.3 502.2h0M202.3 501.4h0M198.3 501.2h0M195.6 501.1h0M191.3 501.2h0M187 503.2h0M184 504.8h0M181.1 506.3h0M177.1 507.7h0M176.3 511.5h0M176.3 516.2h0M175 518.4h0M171.3 517.6h0M168.8 516.6h0M164.6 517.8h0M161.3 519h0M161.1 522.1h0M161 524.7h0M157.8 528.3h0M155.9 530.8h0M154.5 532.1h0M150.9 533.4h0M150.3 535.7h0M149.3 538.1h0M148.4 543.6h0M146.7 548h0M147.9 552.2h0M149.6 555.6h0M151.3 557.6h0M153 560.6h0M155.5 563.4h0M160 564.2h0M164.1 565.5h0M167.9 566.2h0M169.4 567.4h0M173 567.4h0M178.2 567h0M181.9 569.4h0M185.6 568.9h0M231.1 569.1h0M226.9 567.7h0M223.7 567.4h0M219 565h0M215.9 564h0M219.3 562.9h0M222.7 561.5h0M225.6 559.9h0M228.2 559.4h0M230.8 558.2h0M231.2 563.6h0M232.5 566.4h0M504.5 417h0M504.3 417.6h0M502.9 437.7h0M502.8 437.6h0M436.5 435.5h0M436.7 437.2h0M433.8 449.7h0M478.2 492.7h0M478.2 491.4h0M478.8 491.3h0M536.1 506.1h0M537.5 505.1h0M537.5 504.6h0M537.2 507h0M546.5 523.6h0M543.7 518.7h0M548.2 525.9h0M542.5 513.7h0M545.4 522.9h0M543.7 517.8h0M549.1 524.8h0M543 512.9h0M548 524.2h0M542.5 511.2h0M547.7 522.6h0M550.1 524.8h0M542.2 513.8h0M542.4 514.6h0M558.3 532.8h0M559.9 532.4h0M556 532.1h0M559.6 532.2h0M558 531.5h0M568 502.2h0M567.5 504.3h0M568.2 503.4h0M579.7 420.5h0M530.2 443.6h0M513.5 414.7h0M511.1 416.1h0M450 552.9h0M451 553.5h0M451.5 554.4h0M429.9 554.9h0M631.8 445.1h0M630.8 445.1h0M570.1 457.9h0M571.1 458.2h0M515.7 456.7h0M514.9 492.5h0M515.5 491.6h0M495.9 496.5h0M495.3 496.3h0M425.4 557.8h0M640.7 430.3h0M641.8 429.7h0M609.5 458.3h0M609.2 457.5h0M426.4 423.9h0M422.8 421.6h0M424.1 421.1h0M442.3 400.6h0M443.8 394h0M448.9 390.2h0M444.6 393.8h0M453.3 386.7h0M446.8 390.1h0M453.3 387.5h0M452 389.6h0M446.3 390.8h0M448.1 390h0M450.3 391.6h0M447.7 391.5h0M451.2 389.8h0M451.8 390.3h0M450.3 390.3h0M451.8 390.3h0M445.6 391h0M451.4 390.8h0M448 390.1h0M447.6 391.3h0M443.1 395h0M446 392.9h0M414.9 412.1h0M405.6 410.4h0M421.9 416.6h0M420.5 416.6h0M420.2 416.7h0M417.7 424.8h0M417 425h0M283.4 530.1h0M353.2 868.9h0M353.6 868.9h0M355.5 867.4h0M392.4 851.7h0M392.9 851.5h0M391.8 851.7h0M391.7 852h0M430.5 850h0M538.4 268.2h0M559 249.6h0M558.9 248.9h0M558.4 249.6h0M699.9 242.1h0M698.4 242.3h0M720.8 239.1h0M721.1 240.6h0M738.4 248.3h0M757.3 280.3h0M758.3 281.4h0M757.1 281.4h0M758.3 279.6h0M760.2 281.7h0M757.4 282.3h0M760.4 281.6h0M703.5 207.9h0M704 207.3h0M701.6 208.6h0M703 207.7h0M704.2 205.7h0M702.6 208.7h0M687.7 229.1h0M684 230.1h0M712.2 206.7h0M712.7 206.4h0M724.6 234.1h0M722.2 235.4h0M723.7 235.1h0M726.4 233.5h0M731 226.7h0M728.7 226.6h0M669.2 740.5h0M662.4 922.7h0M663 919.9h0M678 927.1h0M685.1 930.7h0M679.2 926h0M679.2 930.3h0M687.7 933.1h0M683.8 931.1h0M686.7 930.5h0M672.7 925.9h0M680.3 929.2h0M688.3 931.4h0M688.1 931.7h0M677.6 928.1h0M686.9 932.6h0M685.5 928.7h0M688.9 930.3h0M685.6 931.1h0M683.1 929.7h0M680.9 928.5h0M676.5 928.7h0M687 931.8h0M674.7 927.4h0M671.7 925.5h0M678.8 929.7h0M677.4 927.9h0M685.3 932h0M674.2 927.7h0M679.9 929.5h0M682.5 927.4h0M685.6 931.3h0M685.8 931.2h0M684.3 932.3h0M651.5 986.3h0M648.1 979h0M647.5 979.3h0M647 978.6h0M698.4 269.5h0M701.2 270.5h0M701.6 272.7h0M699.7 270.3h0M700.9 272.6h0M701.6 271.5h0M914.2 350.2h0M846.5 361.9h0M844.8 362.3h0M913.7 401.9h0M914.5 398.2h0M913.8 402.2h0M913.1 400.8h0M915 399.2h0M914.8 399.5h0M915.3 402.2h0M913.5 398.8h0M916.1 400.8h0M913 401.7h0M918 400h0M915.7 398.9h0M928.5 388.7h0M928.7 390.4h0M929.6 389.2h0M750.1 556h0M750.7 556.1h0M746.4 540.5h0M746.6 541.8h0M747 544h0M746.2 545.7h0M746.8 541.7h0M731.1 559h0M733.9 560.4h0M731.5 558.8h0M732.6 560h0M719.1 561.1h0M722.5 560.2h0M720.9 561.8h0M721.2 567.1h0M721.2 564.6h0M719.7 562.8h0M722.7 567.9h0M723.8 566.5h0M722.8 563.8h0M723.4 564.2h0M720.7 565.7h0M722.5 559.9h0M723.7 566.7h0M726 567.6h0M725.4 566.6h0M721.5 558.9h0M723.1 567.5h0M721.6 557.1h0M722 561.5h0M718.6 559.9h0M722.1 563.2h0M720 564.2h0M723.4 568.6h0M722.8 548h0M722.5 551.5h0M722 550.1h0M721.5 548.5h0M721.3 549.3h0M719.8 550.6h0M723 550.4h0M722.6 547h0M949 633.6h0M949.1 632.7h0M919.1 675.4h0M919.9 674.1h0M918.8 675.3h0M711.4 717h0M780.5 786.3h0M491.2 375h0M491.9 376.4h0M493.2 378.8h0M494.6 381.3h0M495.7 383.4h0M497 385.8h0M498.1 387.9h0M499 389.8h0M500.1 392.4h0M501 394.4h0M502 396.5h0M502.8 398.3h0M503.6 400.1h0M504.7 402.6h0M505.5 404.8h0M506.5 407.7h0M506.9 409.2h0M507.7 411.5h0M426.6 416.6h0M428.1 416h0M429.8 415h0M432.7 413.6h0M434.7 413h0M436.8 412.4h0M438.7 411.8h0M440.7 411.2h0M442.7 411.2h0M445.4 412.4h0M447.7 413.2h0M449.2 413.8h0M450.6 414.7h0M452.4 416.1h0M453.7 417.2h0M455.8 419.4h0M457.7 421.5h0M459 423.4h0M460.6 425.7h0M461.8 427.6h0M463.4 429.6h0M465.6 431.9h0M466.7 433.2h0M468 434.5h0M470 436.3h0M472.1 438h0M474.1 439.3h0M719.2 553.3h0M718.3 554.7h0M717.2 556.6h0M716 558.4h0M714.9 560.6h0M714.6 563.2h0M714.3 565.6h0M721.7 548.3h0M721.1 550.4h0M720.5 553h0M720.1 556h0M720.3 559.1h0M720.5 561.1h0M720.7 563h0M721.3 565.2h0M723 566.1h0M909.3 535h0M907.6 536h0M905.3 537.3h0M903 539h0M900.6 540.8h0M899.6 542.3h0M898.2 543.8h0M896.5 545.7h0M894.9 548.3h0M893.7 550.6h0M892.7 552.3h0M891.8 554.1h0M890.7 555.9h0M889.8 558h0M889.1 559.4h0M888.2 561.6h0M886.9 564.6h0M886.4 566.5h0M886.2 568.5h0M885.7 571.7h0M885.3 573.4h0M885 575.2h0M885.3 577.6h0M885.5 579.5h0M885.8 582.4h0M885.9 584.1h0M886.3 585.8h0M886.6 587.7h0M887.4 590.7h0M410.4 853.8h0M412 852.6h0M413.3 851.6h0M414.7 850.6h0M415.8 856.7h0M416.7 859.3h0M417.7 862.3h0M422.5 854.6h0M421.3 856.6h0M419.7 859.1h0M426.7 852.5h0M427.2 854.9h0M427.5 856.4h0M428.2 859.2h0M428.1 861.6h0M427.7 864.7h0M427.3 867.2h0M501.6 914.9h0M502.1 917.3h0M502.7 919.4h0M503.1 922.1h0M505 932.5h0M505.4 934.3h0M430.8 1046.3h0M432.5 1045.1h0M433.7 1044.2h0M436.1 1042.5h0M437.9 1041.1h0M546.9 789.4h0M546.8 791h0M546.3 793.3h0M547.7 795.6h0M501.8 915.8h0M502.2 918h0M502.8 920.9h0M503.1 922.8h0M505 932.5h0M505.8 934.8h0M427.4 417.7h0M429 416.3h0M431.2 415.2h0M434.5 412.6h0M435 412.1h0M437.6 411.7h0M440.1 411.3h0M439.6 411.2h0M442.3 410h0M444.6 412h0M446.8 413.7h0M449.7 414.7h0M450.7 414.5h0M451.9 415.9h0M454.5 419.1h0M454.8 419.1h0M456.9 421.8h0M460 423.4h0M461.6 427h0M461.7 428.3h0M464.3 430.4h0M465.8 431.2h0M465.6 433.1h0M467.2 433.9h0M469.1 436.8h0M471.3 437h0M473.9 438.7h0M921.7 394.2h0M923.8 392.7h0M923.5 393h0M920.3 396.1h0M924.9 391.7h0M923.3 394.2h0M922.9 394.3h0M923.9 393.6h0M919.7 396.5h0M921.6 394.3h0M921.8 394.2h0M920.7 395.7h0M919.9 396.3h0M922.1 393.9h0M923.3 394.2h0M923.1 393.3h0M919.4 396.6h0M921 395.6h0M920 395.8h0M921.9 393.8h0M919.3 396.7h0M921.7 394.2h0M542.1 314.6h0M542.9 315.4h0M542.3 314.5h0M540.6 313h0M538.4 314.4h0M545.4 313.4h0M538.8 315.3h0M537.6 318.7h0M543.1 309.1h0M536.4 318.2h0M546.1 310.2h0M540.3 318h0M540.2 317.8h0M540 317.8h0M537 318.1h0M545.5 309.6h0M539.9 311.7h0M542.6 311.2h0M541.9 310.4h0M536.6 320.1h0M545 315.1h0M541.9 309.4h0M544.4 314.5h0M543.1 312.9h0M537.3 317.5h0M543.1 313.7h0M537.9 319h0M542.9 312.8h0M542 311.6h0M541.9 310.6h0M543.5 310.1h0M537.6 316.2h0M543.9 313.7h0M537.4 316.9h0M543.1 310.5h0M541.1 311.9h0M544 313.1h0M542.7 314.2h0M539.6 310h0M544.1 309.6h0M536 316.3h0M539.7 312.8h0M543 311.5h0M725.3 717.2h0M730.6 716.3h0M729.4 715.4h0M722.7 717.8h0M727.2 717.6h0M724.1 718.1h0M729.8 715.9h0M717.7 719.8h0M718.8 719.5h0M728.5 715.9h0M717.5 720.4h0M720.4 720.6h0M726.8 717.1h0M720.7 719.2h0M720.6 718.4h0M716.1 719.8h0M721.3 720.7h0M725.6 719.4h0M718.6 720.2h0M726.1 717h0M718.6 720.8h0M719.8 720.9h0M729.9 716.4h0M725 719.1h0M720.9 721.4h0M722.4 719h0M726.1 716.5h0M718.9 720.8h0M723.2 720h0M719.8 718.9h0M730.5 715.3h0M729.1 717h0M728 716.3h0M730.8 715.8h0M741.1 794h0M742.7 794h0M742.5 793.3h0M739.3 798.1h0M740.1 793.4h0M739.2 797h0M740.3 792.7h0M743.4 792.9h0M741.1 793h0M742.3 791.4h0M739.6 794.5h0M741.3 794.2h0M741.2 790.1h0M740.6 795.7h0M736.7 797.9h0M738.1 796.6h0M741 795.7h0M741.3 790.4h0M742.2 794.4h0M740.7 794.9h0M743.1 790.3h0M737.7 796.7h0M739.7 794.1h0M740.4 792.5h0M740.8 791.3h0M740.2 790.5h0M655.1 918h0M658.2 919.9h0M657.2 919.3h0M648.6 915.9h0M659.9 920.7h0M640.8 915.9h0M649.7 916.4h0M637.8 916.1h0M639.8 915h0M656.5 918.5h0M639.1 915.9h0M638.1 916h0M639.3 915.3h0M641.9 916.4h0M655.9 918.2h0M644.2 916.3h0M644.4 916.3h0M652.7 917.2h0M646.9 915.9h0M643.9 913.7h0M656.1 918.6h0M648.7 916.5h0M640.1 915.4h0M658.6 920.1h0M657.5 919.5h0M660.5 920.9h0M642.8 915.8h0M645.9 915.2h0M642.3 915h0M648.6 916.4h0M638 915.8h0M639.3 915.9h0M645 914.6h0M657.2 919.2h0M650.4 983.2h0M650.1 982.5h0M650.1 982.5h0M649.8 982.7h0M650.3 982.7h0M649.8 982.1h0M650.7 983.3h0M650.3 982.7h0M650.2 983.1h0M399.4 847.4h0M396.6 848.2h0M397.3 847.5h0M397.8 849.8h0M396.9 847.7h0M400 848.7h0M397.9 848.3h0M395.6 848.2h0M398.4 848.7h0M398.6 848.1h0M396.5 848.6h0M396.4 847.7h0M395.7 848.3h0M399.6 847.8h0M898.5 542.7h0M895.7 552h0M901.6 540.7h0M897.2 547.6h0M904.6 542.8h0M901.9 543.2h0M899.2 545.9h0M895.3 549.7h0M898.3 547.6h0M896.7 546.5h0M902.6 542.7h0M901.1 546.8h0M899.8 542.2h0M899.1 542h0M898 546.3h0M898.2 542.6h0M894.3 548.7h0M904.4 540.7h0M902.7 544.2h0M899.8 546.3h0M897.4 550h0M901.4 545.9h0M901.2 540.6h0M905.9 540.2h0M901 540.8h0M897.2 548.8h0M903.9 543.4h0M896.4 545.1h0M903.7 540.5h0M900.6 543.5h0M896.5 548.7h0M903.7 539.2h0M903.1 538.6h0M894.8 548.6h0M896 552.6h0M897.5 549.4h0M903.2 540.9h0M897.1 544.2h0M904.4 542.1h0M894.8 551.8h0M909.2 535.8h0M900.3 546.1h0M897.6 544.6h0M900.2 547.7h0M898.6 549.7h0M897.2 546h0M908.6 537h0M894.9 550.6h0M896.3 552.4h0"/>
<circle cx="668.8" cy="119.5" r="2.85" fill="#0000FF"/>
<circle cx="675" cy="160.5" r="2.85" fill="#8761F1"/>
<circle cx="690.5" cy="173.3" r="2.85" fill="#8761F1"/>
<circle cx="476.2" cy="353.3" r="2.85" fill="#8761F1"/>
<circle cx="498.8" cy="394.2" r="2.85" fill="#8761F1"/>
<circle cx="501.3" cy="401.3" r="2.85" fill="#8761F1"/>
<circle cx="758.7" cy="583.7" r="2.85" fill="#8761F1"/>
<circle cx="892.7" cy="555.8" r="2.85" fill="#8761F1"/>
<circle cx="969" cy="678.8" r="2.85" fill="#8761F1"/>
<circle cx="988.2" cy="758.3" r="2.85" fill="#8761F1"/>
<circle cx="428.7" cy="827.8" r="2.85" fill="#8761F1"/>
<circle cx="431.2" cy="835.5" r="2.85" fill="#8761F1"/>
<circle cx="433.7" cy="841.7" r="2.85" fill="#8761F1"/>
<circle cx="478.3" cy="872" r="2.85" fill="#8761F1"/>
<circle cx="502.8" cy="877.8" r="2.85" fill="#8761F1"/>
<circle cx="506.7" cy="878.7" r="2.85" fill="#8761F1"/>
<circle cx="493" cy="887.7" r="2.85" fill="#8761F1"/>
<circle cx="514.3" cy="973.3" r="2.85" fill="#8761F1"/>
<circle cx="636" cy="670.5" r="2.85" fill="#0000FF"/>
<circle cx="620.7" cy="685.5" r="2.85" fill="#0000FF"/>
<circle cx="657" cy="710.8" r="2.85" fill="#0000FF"/>
<circle cx="602.8" cy="683.8" r="2.85" fill="#8761F1"/>
<circle cx="668.2" cy="721" r="2.85" fill="#8761F1"/>
<circle cx="593.8" cy="778.2" r="2.85" fill="#8761F1"/>
<circle cx="722.5" cy="720.5" r="2.85" fill="#8761F1"/>
<circle cx="625" cy="899.7" r="2.85" fill="#8761F1"/>
<circle cx="621.2" cy="905.5" r="2.85" fill="#8761F1"/>
<circle cx="712.7" cy="935.3" r="2.85" fill="#8761F1"/>
<circle cx="706.5" cy="943.3" r="2.85" fill="#8761F1"/>
<circle cx="650.5" cy="982.7" r="2.85" fill="#8761F1"/>
<circle cx="652.2" cy="984.7" r="2.85" fill="#8761F1"/>
<circle cx="706" cy="935.3" r="2.85" fill="#0000FF"/>
<circle cx="339.2" cy="723.3" r="2.85" fill="#8761F1"/>
<circle cx="351.4" cy="723.5" r="2.85" fill="#8761F1"/>
<circle cx="328.3" cy="724.8" r="2.85" fill="#8761F1"/>
<circle cx="330.4" cy="727.5" r="2.85" fill="#8761F1"/>
<circle cx="334.2" cy="729.8" r="2.85" fill="#8761F1"/>
<circle cx="337.5" cy="731.2" r="2.85" fill="#8761F1"/>
<circle cx="342.5" cy="732.9" r="2.85" fill="#8761F1"/>
<circle cx="345.4" cy="734.8" r="2.85" fill="#8761F1"/>
<circle cx="326.7" cy="734.2" r="2.85" fill="#8761F1"/>
<circle cx="325.4" cy="735.8" r="2.85" fill="#8761F1"/>
<circle cx="335" cy="736.8" r="2.85" fill="#8761F1"/>
<circle cx="331.7" cy="738.8" r="2.85" fill="#8761F1"/>
<circle cx="328.8" cy="741" r="2.85" fill="#8761F1"/>
<circle cx="319.6" cy="742.5" r="2.85" fill="#8761F1"/>
<circle cx="321.7" cy="742.5" r="2.85" fill="#8761F1"/>
<circle cx="360.4" cy="742.9" r="2.85" fill="#8761F1"/>
<circle cx="360.2" cy="745.4" r="2.85" fill="#8761F1"/>
<circle cx="359.6" cy="753.3" r="2.85" fill="#8761F1"/>
<circle cx="358.8" cy="757.9" r="2.85" fill="#8761F1"/>
<circle cx="356.2" cy="759.8" r="2.85" fill="#8761F1"/>
<circle cx="317.1" cy="759.3" r="2.85" fill="#8761F1"/>
<circle cx="322.5" cy="761.1" r="2.85" fill="#8761F1"/>
<circle cx="332.9" cy="761.7" r="2.85" fill="#8761F1"/>
<circle cx="350.6" cy="762.7" r="2.85" fill="#8761F1"/>
<circle cx="358.3" cy="764.2" r="2.85" fill="#8761F1"/>
<circle cx="362.5" cy="768.2" r="2.85" fill="#8761F1"/>
<circle cx="369.2" cy="770.2" r="2.85" fill="#8761F1"/>
<circle cx="337.1" cy="767.5" r="2.85" fill="#8761F1"/>
<circle cx="338.3" cy="770.4" r="2.85" fill="#8761F1"/>
<circle cx="346.4" cy="769.6" r="2.85" fill="#8761F1"/>
<circle cx="330.4" cy="773.3" r="2.85" fill="#8761F1"/>
<circle cx="339.6" cy="774.2" r="2.85" fill="#8761F1"/>
<circle cx="339.8" cy="776.2" r="2.85" fill="#8761F1"/>
<circle cx="370.2" cy="775.4" r="2.85" fill="#8761F1"/>
<circle cx="319.2" cy="775" r="2.85" fill="#8761F1"/>
<circle cx="325" cy="779.6" r="2.85" fill="#8761F1"/>
<circle cx="315.7" cy="781.8" r="2.85" fill="#8761F1"/>
<circle cx="333.8" cy="780.2" r="2.85" fill="#8761F1"/>
<circle cx="336.7" cy="781.2" r="2.85" fill="#8761F1"/>
<circle cx="339.2" cy="784.2" r="2.85" fill="#8761F1"/>
<circle cx="341.7" cy="782.5" r="2.85" fill="#8761F1"/>
<circle cx="345.4" cy="782.3" r="2.85" fill="#8761F1"/>
<circle cx="357.1" cy="780.4" r="2.85" fill="#8761F1"/>
<circle cx="363.3" cy="779.6" r="2.85" fill="#8761F1"/>
<circle cx="366.7" cy="780.4" r="2.85" fill="#8761F1"/>
<circle cx="370.4" cy="780.8" r="2.85" fill="#8761F1"/>
<circle cx="374.2" cy="781.5" r="2.85" fill="#8761F1"/>
<circle cx="344.2" cy="788.3" r="2.85" fill="#8761F1"/>
<circle cx="307.9" cy="788.8" r="2.85" fill="#8761F1"/>
<circle cx="308.3" cy="791.2" r="2.85" fill="#8761F1"/>
<circle cx="308.8" cy="794.2" r="2.85" fill="#8761F1"/>
<circle cx="318.3" cy="791.7" r="2.85" fill="#8761F1"/>
<circle cx="319.2" cy="796.7" r="2.85" fill="#8761F1"/>
<circle cx="331.7" cy="791.7" r="2.85" fill="#8761F1"/>
<circle cx="333.3" cy="794.2" r="2.85" fill="#8761F1"/>
<circle cx="336.7" cy="793.8" r="2.85" fill="#8761F1"/>
<circle cx="333.8" cy="796.7" r="2.85" fill="#8761F1"/>
<circle cx="357.5" cy="789.3" r="2.85" fill="#8761F1"/>
<circle cx="360.8" cy="789.8" r="2.85" fill="#8761F1"/>
<circle cx="367.9" cy="789.2" r="2.85" fill="#8761F1"/>
<circle cx="377.5" cy="789.3" r="2.85" fill="#8761F1"/>
<circle cx="341.2" cy="798.3" r="2.85" fill="#8761F1"/>
<circle cx="345.8" cy="795.4" r="2.85" fill="#8761F1"/>
<circle cx="349.2" cy="794.8" r="2.85" fill="#8761F1"/>
<circle cx="355.8" cy="797.1" r="2.85" fill="#8761F1"/>
<circle cx="354.6" cy="799.6" r="2.85" fill="#8761F1"/>
<circle cx="369.8" cy="799.3" r="2.85" fill="#8761F1"/>
<circle cx="316.7" cy="800.8" r="2.85" fill="#8761F1"/>
<circle cx="317.9" cy="804.2" r="2.85" fill="#8761F1"/>
<circle cx="317.5" cy="807.5" r="2.85" fill="#8761F1"/>
<circle cx="330.2" cy="804.2" r="2.85" fill="#8761F1"/>
<circle cx="348.8" cy="804.2" r="2.85" fill="#8761F1"/>
<circle cx="351.7" cy="804.3" r="2.85" fill="#8761F1"/>
<circle cx="360.2" cy="803.8" r="2.85" fill="#8761F1"/>
<circle cx="377.1" cy="805" r="2.85" fill="#8761F1"/>
<circle cx="306.2" cy="805.4" r="2.85" fill="#8761F1"/>
<circle cx="302.5" cy="807.1" r="2.85" fill="#8761F1"/>
<circle cx="299.2" cy="807.9" r="2.85" fill="#8761F1"/>
<circle cx="333.3" cy="808.3" r="2.85" fill="#8761F1"/>
<circle cx="338.3" cy="808.3" r="2.85" fill="#8761F1"/>
<circle cx="370.8" cy="807.9" r="2.85" fill="#8761F1"/>
<circle cx="356.2" cy="766.9" r="2.85" fill="#0000FF"/>
<circle cx="314.4" cy="796.7" r="2.85" fill="#0000FF"/>
<circle cx="384.6" cy="746" r="2.85" fill="#8761F1"/>
<circle cx="387.9" cy="795.8" r="2.85" fill="#8761F1"/>
<circle cx="390.4" cy="806.2" r="2.85" fill="#8761F1"/>
<circle cx="400.2" cy="804" r="2.85" fill="#8761F1"/>
<circle cx="393.5" cy="775.6" r="2.85" fill="#0000FF"/>
<circle cx="405.2" cy="794.4" r="2.85" fill="#0000FF"/>
<circle cx="354.6" cy="811.2" r="2.85" fill="#8761F1"/>
<circle cx="364.2" cy="810.4" r="2.85" fill="#8761F1"/>
<circle cx="365.8" cy="812.9" r="2.85" fill="#8761F1"/>
<circle cx="300" cy="812.9" r="2.85" fill="#8761F1"/>
<circle cx="297.5" cy="815" r="2.85" fill="#8761F1"/>
<circle cx="302.5" cy="816.7" r="2.85" fill="#8761F1"/>
<circle cx="295" cy="817.9" r="2.85" fill="#8761F1"/>
<circle cx="343.3" cy="813.8" r="2.85" fill="#8761F1"/>
<circle cx="335.7" cy="814.2" r="2.85" fill="#8761F1"/>
<circle cx="335" cy="817.5" r="2.85" fill="#8761F1"/>
<circle cx="333.3" cy="821.2" r="2.85" fill="#8761F1"/>
<circle cx="319.6" cy="815.8" r="2.85" fill="#8761F1"/>
<circle cx="311.7" cy="817.5" r="2.85" fill="#8761F1"/>
<circle cx="314.2" cy="817.1" r="2.85" fill="#8761F1"/>
<circle cx="371.2" cy="818.2" r="2.85" fill="#8761F1"/>
<circle cx="356.2" cy="817.1" r="2.85" fill="#8761F1"/>
<circle cx="352.9" cy="819.6" r="2.85" fill="#8761F1"/>
<circle cx="350.4" cy="822.5" r="2.85" fill="#8761F1"/>
<circle cx="309.2" cy="821.7" r="2.85" fill="#8761F1"/>
<circle cx="312.5" cy="822.1" r="2.85" fill="#8761F1"/>
<circle cx="317.5" cy="823.3" r="2.85" fill="#8761F1"/>
<circle cx="321.2" cy="820.8" r="2.85" fill="#8761F1"/>
<circle cx="347.1" cy="823.3" r="2.85" fill="#8761F1"/>
<circle cx="343.3" cy="826.2" r="2.85" fill="#8761F1"/>
<circle cx="296.7" cy="823.8" r="2.85" fill="#8761F1"/>
<circle cx="291.2" cy="826.5" r="2.85" fill="#8761F1"/>
<circle cx="360.4" cy="825.2" r="2.85" fill="#8761F1"/>
<circle cx="373.8" cy="825" r="2.85" fill="#8761F1"/>
<circle cx="306.2" cy="826.7" r="2.85" fill="#8761F1"/>
<circle cx="308.3" cy="829.2" r="2.85" fill="#8761F1"/>
<circle cx="311.7" cy="830.4" r="2.85" fill="#8761F1"/>
<circle cx="316.2" cy="830" r="2.85" fill="#8761F1"/>
<circle cx="323.6" cy="827.5" r="2.85" fill="#8761F1"/>
<circle cx="324.6" cy="831.7" r="2.85" fill="#8761F1"/>
<circle cx="325.8" cy="835" r="2.85" fill="#8761F1"/>
<circle cx="326.7" cy="838.8" r="2.85" fill="#8761F1"/>
<circle cx="360.8" cy="828.8" r="2.85" fill="#8761F1"/>
<circle cx="360.4" cy="832.5" r="2.85" fill="#8761F1"/>
<circle cx="357.1" cy="834.2" r="2.85" fill="#8761F1"/>
<circle cx="353.3" cy="830.8" r="2.85" fill="#8761F1"/>
<circle cx="349.2" cy="830" r="2.85" fill="#8761F1"/>
<circle cx="345.8" cy="831.2" r="2.85" fill="#8761F1"/>
<circle cx="342.5" cy="832.9" r="2.85" fill="#8761F1"/>
<circle cx="340.8" cy="835.8" r="2.85" fill="#8761F1"/>
<circle cx="342.9" cy="837.1" r="2.85" fill="#8761F1"/>
<circle cx="371.2" cy="830.8" r="2.85" fill="#8761F1"/>
<circle cx="289.4" cy="833.8" r="2.85" fill="#8761F1"/>
<circle cx="296.8" cy="834.6" r="2.85" fill="#8761F1"/>
<circle cx="334.6" cy="832.9" r="2.85" fill="#8761F1"/>
<circle cx="334.6" cy="838.3" r="2.85" fill="#8761F1"/>
<circle cx="336.7" cy="840.4" r="2.85" fill="#8761F1"/>
<circle cx="339.6" cy="842.5" r="2.85" fill="#8761F1"/>
<circle cx="340.8" cy="845.8" r="2.85" fill="#8761F1"/>
<circle cx="312.2" cy="838.9" r="2.85" fill="#8761F1"/>
<circle cx="363.6" cy="839.3" r="2.85" fill="#8761F1"/>
<circle cx="353.8" cy="842.3" r="2.85" fill="#8761F1"/>
<circle cx="290.4" cy="843.3" r="2.85" fill="#8761F1"/>
<circle cx="300" cy="845.2" r="2.85" fill="#8761F1"/>
<circle cx="360" cy="845.4" r="2.85" fill="#8761F1"/>
<circle cx="359.2" cy="848.3" r="2.85" fill="#8761F1"/>
<circle cx="359.6" cy="852.5" r="2.85" fill="#8761F1"/>
<circle cx="355.4" cy="852.1" r="2.85" fill="#8761F1"/>
<circle cx="351.7" cy="851.2" r="2.85" fill="#8761F1"/>
<circle cx="291.7" cy="850" r="2.85" fill="#8761F1"/>
<circle cx="303.3" cy="851.7" r="2.85" fill="#8761F1"/>
<circle cx="305.8" cy="849.2" r="2.85" fill="#8761F1"/>
<circle cx="310" cy="848.8" r="2.85" fill="#8761F1"/>
<circle cx="313.8" cy="849.6" r="2.85" fill="#8761F1"/>
<circle cx="318.3" cy="851.7" r="2.85" fill="#8761F1"/>
<circle cx="314.2" cy="853.3" r="2.85" fill="#8761F1"/>
<circle cx="317.1" cy="857.1" r="2.85" fill="#8761F1"/>
<circle cx="344.2" cy="853.1" r="2.85" fill="#8761F1"/>
<circle cx="372.5" cy="855.7" r="2.85" fill="#8761F1"/>
<circle cx="302.5" cy="857.5" r="2.85" fill="#8761F1"/>
<circle cx="310" cy="859.6" r="2.85" fill="#8761F1"/>
<circle cx="311" cy="862.1" r="2.85" fill="#8761F1"/>
<circle cx="326.5" cy="860" r="2.85" fill="#8761F1"/>
<circle cx="333.1" cy="860.2" r="2.85" fill="#8761F1"/>
<circle cx="340.8" cy="859.4" r="2.85" fill="#8761F1"/>
<circle cx="322.5" cy="863.3" r="2.85" fill="#8761F1"/>
<circle cx="378.6" cy="820" r="2.85" fill="#8761F1"/>
<circle cx="384.8" cy="821" r="2.85" fill="#8761F1"/>
<circle cx="402.9" cy="824.6" r="2.85" fill="#8761F1"/>
<circle cx="406" cy="823.3" r="2.85" fill="#8761F1"/>
<circle cx="382.1" cy="830.8" r="2.85" fill="#8761F1"/>
<circle cx="384.6" cy="831.7" r="2.85" fill="#8761F1"/>
<circle cx="382.5" cy="835.8" r="2.85" fill="#8761F1"/>
<circle cx="385.4" cy="840.4" r="2.85" fill="#8761F1"/>
<circle cx="394.8" cy="836.7" r="2.85" fill="#8761F1"/>
<circle cx="381.7" cy="849.3" r="2.85" fill="#8761F1"/>
<path d="M95.5 50.8V1121.1" stroke="#000" stroke-width="3.2" fill="none"/>
<path d="M93.9 1119.5H1104" stroke="#000" stroke-width="3.2" fill="none"/>
<path d="M141.2 1120V1125" stroke="#000" stroke-width="2.7"/>
<text transform="translate(141.2,1148.4) scale(1,1.06)" font-size="30" text-anchor="middle" font-family="Liberation Sans, Arial, sans-serif" >-15</text>
<path d="M304.6 1120V1125" stroke="#000" stroke-width="2.7"/>
<text transform="translate(304.6,1148.4) scale(1,1.06)" font-size="30" text-anchor="middle" font-family="Liberation Sans, Arial, sans-serif" >-10</text>
<path d="M468.1 1120V1125" stroke="#000" stroke-width="2.7"/>
<text transform="translate(468.1,1148.4) scale(1,1.06)" font-size="30" text-anchor="middle" font-family="Liberation Sans, Arial, sans-serif" >-5</text>
<path d="M631.5 1120V1125" stroke="#000" stroke-width="2.7"/>
<text transform="translate(631.5,1148.4) scale(1,1.06)" font-size="30" text-anchor="middle" font-family="Liberation Sans, Arial, sans-serif" >0</text>
<path d="M794.9 1120V1125" stroke="#000" stroke-width="2.7"/>
<text transform="translate(794.9,1148.4) scale(1,1.06)" font-size="30" text-anchor="middle" font-family="Liberation Sans, Arial, sans-serif" >5</text>
<path d="M958.4 1120V1125" stroke="#000" stroke-width="2.7"/>
<text transform="translate(958.4,1148.4) scale(1,1.06)" font-size="30" text-anchor="middle" font-family="Liberation Sans, Arial, sans-serif" >10</text>
<path d="M90 277H95" stroke="#000" stroke-width="2.7"/>
<text transform="translate(88.5,287.8) scale(1,1.06)" font-size="30" text-anchor="end" font-family="Liberation Sans, Arial, sans-serif" >10</text>
<path d="M90 571.3H95" stroke="#000" stroke-width="2.7"/>
<text transform="translate(88.5,582.1) scale(1,1.06)" font-size="30" text-anchor="end" font-family="Liberation Sans, Arial, sans-serif" >0</text>
<path d="M90 865.3H95" stroke="#000" stroke-width="2.7"/>
<text transform="translate(88.5,876.1) scale(1,1.06)" font-size="30" text-anchor="end" font-family="Liberation Sans, Arial, sans-serif" >-10</text>
<text transform="translate(599.4,37.1) scale(1,1.075)" font-size="33.9" text-anchor="middle" font-family="Liberation Sans, Arial, sans-serif" font-weight="bold">Hoxa6</text>
<text transform="translate(596.9,1180.9) scale(1,1.04)" font-size="29.7" text-anchor="middle" font-family="Liberation Sans, Arial, sans-serif" >umapNC_1</text>
<text transform="translate(34.3,585.9) rotate(-90) scale(1,1.04)" font-size="29.7" text-anchor="middle" font-family="Liberation Sans, Arial, sans-serif" >umapNC_2</text>
<defs><linearGradient id="g" x1="0" y1="1" x2="0" y2="0"><stop offset="0" stop-color="#D3D3D3"/><stop offset="0.25" stop-color="#B9A9E2"/><stop offset="0.5" stop-color="#9B80EE"/><stop offset="0.75" stop-color="#7254F8"/><stop offset="1" stop-color="#0000FF"/></linearGradient></defs>
<rect x="1116" y="547.8" width="15.8" height="76.2" fill="url(#g)"/>
<path d="M1116 554.6h3M1128.8 554.6h3" stroke="#fff" stroke-width="0.8" opacity="0.7"/>
<text transform="translate(1139,563.7) scale(1,1.03)" font-size="25" text-anchor="start" font-family="Liberation Sans, Arial, sans-serif" >1.00</text>
<path d="M1116 572.1h3M1128.8 572.1h3" stroke="#fff" stroke-width="0.8" opacity="0.7"/>
<text transform="translate(1139,581.2) scale(1,1.03)" font-size="25" text-anchor="start" font-family="Liberation Sans, Arial, sans-serif" >0.75</text>
<path d="M1116 589.5h3M1128.8 589.5h3" stroke="#fff" stroke-width="0.8" opacity="0.7"/>
<text transform="translate(1139,598.6) scale(1,1.03)" font-size="25" text-anchor="start" font-family="Liberation Sans, Arial, sans-serif" >0.50</text>
<path d="M1116 607h3M1128.8 607h3" stroke="#fff" stroke-width="0.8" opacity="0.7"/>
<text transform="translate(1139,616.1) scale(1,1.03)" font-size="25" text-anchor="start" font-family="Liberation Sans, Arial, sans-serif" >0.25</text>
<path d="M1116 624.4h3M1128.8 624.4h3" stroke="#fff" stroke-width="0.8" opacity="0.7"/>
<text transform="translate(1139,633.5) scale(1,1.03)" font-size="25" text-anchor="start" font-family="Liberation Sans, Arial, sans-serif" >0.00</text>
</svg></body></html>
